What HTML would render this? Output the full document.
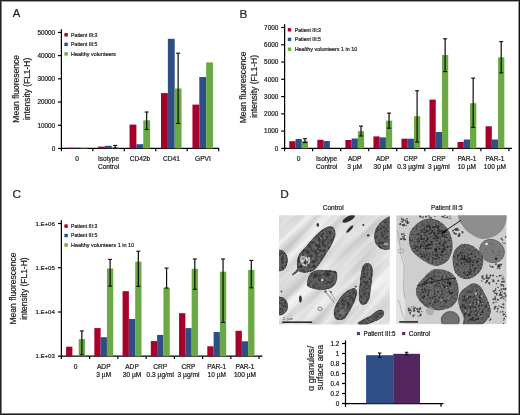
<!DOCTYPE html>
<html><head><meta charset="utf-8"><style>
html,body{margin:0;padding:0;background:#fff;}
body{width:520px;height:415px;position:relative;overflow:hidden;font-family:"Liberation Sans", sans-serif;}
.b{position:absolute;}
</style></head><body>
<svg width="520" height="415" viewBox="0 0 520 415" style="position:absolute;left:0;top:0;will-change:transform">
<g font-family='"Liberation Sans", sans-serif'>
<text x="12.7" y="17.2" font-size="11.8" text-anchor="start" fill="#231f20" stroke="#231f20" stroke-width="0.22" textLength="7.5" lengthAdjust="spacingAndGlyphs">A</text>
<text x="239.6" y="17.5" font-size="11.8" text-anchor="start" fill="#231f20" stroke="#231f20" stroke-width="0.22">B</text>
<text x="12.6" y="198.2" font-size="11.8" text-anchor="start" fill="#231f20" stroke="#231f20" stroke-width="0.22">C</text>
<text x="280.2" y="198.1" font-size="11.8" text-anchor="start" fill="#231f20" stroke="#231f20" stroke-width="0.22">D</text>
<line x1="61.4" y1="29.2" x2="61.4" y2="149.04999999999998" stroke="#000" stroke-width="1.25"/>
<line x1="58.0" y1="148.45" x2="61.4" y2="148.45" stroke="#000" stroke-width="1.2"/>
<text x="55.2" y="150.754" font-size="6.4" text-anchor="end" fill="#231f20" stroke="#231f20" stroke-width="0.22">0</text>
<line x1="58.0" y1="125.23999999999998" x2="61.4" y2="125.23999999999998" stroke="#000" stroke-width="1.2"/>
<text x="55.2" y="127.54399999999998" font-size="6.4" text-anchor="end" fill="#231f20" stroke="#231f20" stroke-width="0.22">10000</text>
<line x1="58.0" y1="102.02999999999999" x2="61.4" y2="102.02999999999999" stroke="#000" stroke-width="1.2"/>
<text x="55.2" y="104.33399999999999" font-size="6.4" text-anchor="end" fill="#231f20" stroke="#231f20" stroke-width="0.22">20000</text>
<line x1="58.0" y1="78.82" x2="61.4" y2="78.82" stroke="#000" stroke-width="1.2"/>
<text x="55.2" y="81.124" font-size="6.4" text-anchor="end" fill="#231f20" stroke="#231f20" stroke-width="0.22">30000</text>
<line x1="58.0" y1="55.609999999999985" x2="61.4" y2="55.609999999999985" stroke="#000" stroke-width="1.2"/>
<text x="55.2" y="57.91399999999999" font-size="6.4" text-anchor="end" fill="#231f20" stroke="#231f20" stroke-width="0.22">40000</text>
<line x1="58.0" y1="32.39999999999998" x2="61.4" y2="32.39999999999998" stroke="#000" stroke-width="1.2"/>
<text x="55.2" y="34.70399999999998" font-size="6.4" text-anchor="end" fill="#231f20" stroke="#231f20" stroke-width="0.22">50000</text>
<line x1="60.8" y1="148.45" x2="219.2" y2="148.45" stroke="#000" stroke-width="1.2"/>
<line x1="61.4" y1="148.45" x2="61.4" y2="151.25" stroke="#000" stroke-width="1.2"/>
<line x1="92.85" y1="148.45" x2="92.85" y2="151.25" stroke="#000" stroke-width="1.2"/>
<line x1="124.3" y1="148.45" x2="124.3" y2="151.25" stroke="#000" stroke-width="1.2"/>
<line x1="155.75" y1="148.45" x2="155.75" y2="151.25" stroke="#000" stroke-width="1.2"/>
<line x1="187.2" y1="148.45" x2="187.2" y2="151.25" stroke="#000" stroke-width="1.2"/>
<line x1="218.65" y1="148.45" x2="218.65" y2="151.25" stroke="#000" stroke-width="1.2"/>
<rect x="66.65" y="147.80" width="6.85" height="0.65" fill="#a6002b"/>
<rect x="73.50" y="147.70" width="6.85" height="0.75" fill="#2e4e85"/>
<rect x="80.35" y="147.80" width="6.85" height="0.65" fill="#6ba944"/>
<rect x="98.10" y="146.60" width="6.85" height="1.85" fill="#a6002b"/>
<rect x="104.95" y="145.80" width="6.85" height="2.65" fill="#2e4e85"/>
<rect x="111.80" y="147.40" width="6.85" height="1.05" fill="#6ba944"/>
<rect x="129.55" y="124.60" width="6.85" height="23.85" fill="#a6002b"/>
<rect x="136.40" y="144.20" width="6.85" height="4.25" fill="#2e4e85"/>
<rect x="143.25" y="120.30" width="6.85" height="28.15" fill="#6ba944"/>
<rect x="161.00" y="93.10" width="6.85" height="55.35" fill="#a6002b"/>
<rect x="167.85" y="38.80" width="6.85" height="109.65" fill="#2e4e85"/>
<rect x="174.70" y="88.50" width="6.85" height="59.95" fill="#6ba944"/>
<rect x="192.45" y="104.60" width="6.85" height="43.85" fill="#a6002b"/>
<rect x="199.30" y="77.00" width="6.85" height="71.45" fill="#2e4e85"/>
<rect x="206.15" y="62.40" width="6.85" height="86.05" fill="#6ba944"/>
<line x1="115.225" y1="145.4" x2="115.225" y2="148.2" stroke="#0a0a0a" stroke-width="1.2"/>
<line x1="113.225" y1="145.4" x2="117.225" y2="145.4" stroke="#0a0a0a" stroke-width="1.1"/>
<line x1="113.225" y1="148.2" x2="117.225" y2="148.2" stroke="#0a0a0a" stroke-width="1.1"/>
<line x1="146.675" y1="112" x2="146.675" y2="129.5" stroke="#0a0a0a" stroke-width="1.2"/>
<line x1="144.675" y1="112" x2="148.675" y2="112" stroke="#0a0a0a" stroke-width="1.1"/>
<line x1="144.675" y1="129.5" x2="148.675" y2="129.5" stroke="#0a0a0a" stroke-width="1.1"/>
<line x1="178.125" y1="53.2" x2="178.125" y2="123.5" stroke="#0a0a0a" stroke-width="1.2"/>
<line x1="176.125" y1="53.2" x2="180.125" y2="53.2" stroke="#0a0a0a" stroke-width="1.1"/>
<line x1="176.125" y1="123.5" x2="180.125" y2="123.5" stroke="#0a0a0a" stroke-width="1.1"/>
<text x="77.125" y="160.8" font-size="6.6" text-anchor="middle" fill="#231f20" stroke="#231f20" stroke-width="0.22">0</text>
<text x="108.57499999999999" y="160.8" font-size="6.6" text-anchor="middle" fill="#231f20" stroke="#231f20" stroke-width="0.22">Isotype</text>
<text x="108.57499999999999" y="169.3" font-size="6.6" text-anchor="middle" fill="#231f20" stroke="#231f20" stroke-width="0.22">Control</text>
<text x="140.025" y="160.8" font-size="6.6" text-anchor="middle" fill="#231f20" stroke="#231f20" stroke-width="0.22">CD42b</text>
<text x="171.475" y="160.8" font-size="6.6" text-anchor="middle" fill="#231f20" stroke="#231f20" stroke-width="0.22">CD41</text>
<text x="202.925" y="160.8" font-size="6.6" text-anchor="middle" fill="#231f20" stroke="#231f20" stroke-width="0.22">GPVI</text>
<rect x="64.40" y="33.10" width="3.40" height="3.40" fill="#a6002b"/>
<text x="71" y="36.744" font-size="5.4" text-anchor="start" fill="#231f20" stroke="#231f20" stroke-width="0.22" textLength="26.4" lengthAdjust="spacingAndGlyphs">Patient III:3</text>
<rect x="64.40" y="42.70" width="3.40" height="3.40" fill="#2e4e85"/>
<text x="71" y="46.344" font-size="5.4" text-anchor="start" fill="#231f20" stroke="#231f20" stroke-width="0.22" textLength="26.4" lengthAdjust="spacingAndGlyphs">Patient III:5</text>
<rect x="64.40" y="52.20" width="3.40" height="3.40" fill="#6ba944"/>
<text x="71" y="55.844" font-size="5.4" text-anchor="start" fill="#231f20" stroke="#231f20" stroke-width="0.22" textLength="45" lengthAdjust="spacingAndGlyphs">Healthy volunteers</text>
<text x="19.2" y="122.7" font-size="8.5" fill="#231f20" stroke="#231f20" stroke-width="0.22" transform="rotate(-90 19.2 122.7)" textLength="67.8" lengthAdjust="spacingAndGlyphs">Mean fluoresence</text>
<text x="29.6" y="120.0" font-size="8.5" fill="#231f20" stroke="#231f20" stroke-width="0.22" transform="rotate(-90 29.6 120.0)" textLength="62.2" lengthAdjust="spacingAndGlyphs">intensity (FL1-H)</text>
<line x1="284.6" y1="24.2" x2="284.6" y2="149.0" stroke="#000" stroke-width="1.25"/>
<line x1="281.20000000000005" y1="148.4" x2="284.6" y2="148.4" stroke="#000" stroke-width="1.2"/>
<text x="278.3" y="150.704" font-size="6.4" text-anchor="end" fill="#231f20" stroke="#231f20" stroke-width="0.22">0</text>
<line x1="281.20000000000005" y1="131.13" x2="284.6" y2="131.13" stroke="#000" stroke-width="1.2"/>
<text x="278.3" y="133.434" font-size="6.4" text-anchor="end" fill="#231f20" stroke="#231f20" stroke-width="0.22">1000</text>
<line x1="281.20000000000005" y1="113.86000000000001" x2="284.6" y2="113.86000000000001" stroke="#000" stroke-width="1.2"/>
<text x="278.3" y="116.16400000000002" font-size="6.4" text-anchor="end" fill="#231f20" stroke="#231f20" stroke-width="0.22">2000</text>
<line x1="281.20000000000005" y1="96.59" x2="284.6" y2="96.59" stroke="#000" stroke-width="1.2"/>
<text x="278.3" y="98.894" font-size="6.4" text-anchor="end" fill="#231f20" stroke="#231f20" stroke-width="0.22">3000</text>
<line x1="281.20000000000005" y1="79.32000000000001" x2="284.6" y2="79.32000000000001" stroke="#000" stroke-width="1.2"/>
<text x="278.3" y="81.62400000000001" font-size="6.4" text-anchor="end" fill="#231f20" stroke="#231f20" stroke-width="0.22">4000</text>
<line x1="281.20000000000005" y1="62.05000000000001" x2="284.6" y2="62.05000000000001" stroke="#000" stroke-width="1.2"/>
<text x="278.3" y="64.35400000000001" font-size="6.4" text-anchor="end" fill="#231f20" stroke="#231f20" stroke-width="0.22">5000</text>
<line x1="281.20000000000005" y1="44.78" x2="284.6" y2="44.78" stroke="#000" stroke-width="1.2"/>
<text x="278.3" y="47.084" font-size="6.4" text-anchor="end" fill="#231f20" stroke="#231f20" stroke-width="0.22">6000</text>
<line x1="281.20000000000005" y1="27.510000000000005" x2="284.6" y2="27.510000000000005" stroke="#000" stroke-width="1.2"/>
<text x="278.3" y="29.814000000000004" font-size="6.4" text-anchor="end" fill="#231f20" stroke="#231f20" stroke-width="0.22">7000</text>
<line x1="284.0" y1="148.4" x2="512" y2="148.4" stroke="#000" stroke-width="1.2"/>
<line x1="284.6" y1="148.4" x2="284.6" y2="151.20000000000002" stroke="#000" stroke-width="1.2"/>
<line x1="312.64000000000004" y1="148.4" x2="312.64000000000004" y2="151.20000000000002" stroke="#000" stroke-width="1.2"/>
<line x1="340.68" y1="148.4" x2="340.68" y2="151.20000000000002" stroke="#000" stroke-width="1.2"/>
<line x1="368.72" y1="148.4" x2="368.72" y2="151.20000000000002" stroke="#000" stroke-width="1.2"/>
<line x1="396.76" y1="148.4" x2="396.76" y2="151.20000000000002" stroke="#000" stroke-width="1.2"/>
<line x1="424.8" y1="148.4" x2="424.8" y2="151.20000000000002" stroke="#000" stroke-width="1.2"/>
<line x1="452.84000000000003" y1="148.4" x2="452.84000000000003" y2="151.20000000000002" stroke="#000" stroke-width="1.2"/>
<line x1="480.88" y1="148.4" x2="480.88" y2="151.20000000000002" stroke="#000" stroke-width="1.2"/>
<line x1="508.92" y1="148.4" x2="508.92" y2="151.20000000000002" stroke="#000" stroke-width="1.2"/>
<rect x="289.30" y="141.20" width="6.25" height="7.20" fill="#a6002b"/>
<rect x="295.55" y="139.00" width="6.25" height="9.40" fill="#2e4e85"/>
<rect x="301.80" y="140.90" width="6.25" height="7.50" fill="#6ba944"/>
<rect x="317.34" y="139.80" width="6.25" height="8.60" fill="#a6002b"/>
<rect x="323.59" y="141.00" width="6.25" height="7.40" fill="#2e4e85"/>
<rect x="345.38" y="140.00" width="6.25" height="8.40" fill="#a6002b"/>
<rect x="351.63" y="138.50" width="6.25" height="9.90" fill="#2e4e85"/>
<rect x="357.88" y="131.10" width="6.25" height="17.30" fill="#6ba944"/>
<rect x="373.42" y="136.40" width="6.25" height="12.00" fill="#a6002b"/>
<rect x="379.67" y="137.40" width="6.25" height="11.00" fill="#2e4e85"/>
<rect x="385.92" y="120.70" width="6.25" height="27.70" fill="#6ba944"/>
<rect x="401.46" y="138.70" width="6.25" height="9.70" fill="#a6002b"/>
<rect x="407.71" y="138.70" width="6.25" height="9.70" fill="#2e4e85"/>
<rect x="413.96" y="116.20" width="6.25" height="32.20" fill="#6ba944"/>
<rect x="429.50" y="99.60" width="6.25" height="48.80" fill="#a6002b"/>
<rect x="435.75" y="132.00" width="6.25" height="16.40" fill="#2e4e85"/>
<rect x="442.00" y="55.00" width="6.25" height="93.40" fill="#6ba944"/>
<rect x="457.54" y="142.00" width="6.25" height="6.40" fill="#a6002b"/>
<rect x="463.79" y="139.50" width="6.25" height="8.90" fill="#2e4e85"/>
<rect x="470.04" y="103.20" width="6.25" height="45.20" fill="#6ba944"/>
<rect x="485.58" y="126.30" width="6.25" height="22.10" fill="#a6002b"/>
<rect x="491.83" y="139.50" width="6.25" height="8.90" fill="#2e4e85"/>
<rect x="498.08" y="57.30" width="6.25" height="91.10" fill="#6ba944"/>
<line x1="304.925" y1="138.7" x2="304.925" y2="142.6" stroke="#0a0a0a" stroke-width="1.2"/>
<line x1="302.925" y1="138.7" x2="306.925" y2="138.7" stroke="#0a0a0a" stroke-width="1.1"/>
<line x1="302.925" y1="142.6" x2="306.925" y2="142.6" stroke="#0a0a0a" stroke-width="1.1"/>
<line x1="361.005" y1="126.1" x2="361.005" y2="136" stroke="#0a0a0a" stroke-width="1.2"/>
<line x1="359.005" y1="126.1" x2="363.005" y2="126.1" stroke="#0a0a0a" stroke-width="1.1"/>
<line x1="359.005" y1="136" x2="363.005" y2="136" stroke="#0a0a0a" stroke-width="1.1"/>
<line x1="389.045" y1="113.1" x2="389.045" y2="128.2" stroke="#0a0a0a" stroke-width="1.2"/>
<line x1="387.045" y1="113.1" x2="391.045" y2="113.1" stroke="#0a0a0a" stroke-width="1.1"/>
<line x1="387.045" y1="128.2" x2="391.045" y2="128.2" stroke="#0a0a0a" stroke-width="1.1"/>
<line x1="417.085" y1="90.8" x2="417.085" y2="142.1" stroke="#0a0a0a" stroke-width="1.2"/>
<line x1="415.085" y1="90.8" x2="419.085" y2="90.8" stroke="#0a0a0a" stroke-width="1.1"/>
<line x1="415.085" y1="142.1" x2="419.085" y2="142.1" stroke="#0a0a0a" stroke-width="1.1"/>
<line x1="445.125" y1="38.8" x2="445.125" y2="71.6" stroke="#0a0a0a" stroke-width="1.2"/>
<line x1="443.125" y1="38.8" x2="447.125" y2="38.8" stroke="#0a0a0a" stroke-width="1.1"/>
<line x1="443.125" y1="71.6" x2="447.125" y2="71.6" stroke="#0a0a0a" stroke-width="1.1"/>
<line x1="473.165" y1="78.1" x2="473.165" y2="127.4" stroke="#0a0a0a" stroke-width="1.2"/>
<line x1="471.165" y1="78.1" x2="475.165" y2="78.1" stroke="#0a0a0a" stroke-width="1.1"/>
<line x1="471.165" y1="127.4" x2="475.165" y2="127.4" stroke="#0a0a0a" stroke-width="1.1"/>
<line x1="501.205" y1="41.6" x2="501.205" y2="72.8" stroke="#0a0a0a" stroke-width="1.2"/>
<line x1="499.205" y1="41.6" x2="503.205" y2="41.6" stroke="#0a0a0a" stroke-width="1.1"/>
<line x1="499.205" y1="72.8" x2="503.205" y2="72.8" stroke="#0a0a0a" stroke-width="1.1"/>
<text x="298.62" y="161" font-size="6.6" text-anchor="middle" fill="#231f20" stroke="#231f20" stroke-width="0.22">0</text>
<text x="326.66" y="161" font-size="6.6" text-anchor="middle" fill="#231f20" stroke="#231f20" stroke-width="0.22">Isotype</text>
<text x="326.66" y="169.2" font-size="6.6" text-anchor="middle" fill="#231f20" stroke="#231f20" stroke-width="0.22">Control</text>
<text x="354.70000000000005" y="161" font-size="6.6" text-anchor="middle" fill="#231f20" stroke="#231f20" stroke-width="0.22">ADP</text>
<text x="354.70000000000005" y="169.2" font-size="6.6" text-anchor="middle" fill="#231f20" stroke="#231f20" stroke-width="0.22">3 µM</text>
<text x="382.74" y="161" font-size="6.6" text-anchor="middle" fill="#231f20" stroke="#231f20" stroke-width="0.22">ADP</text>
<text x="382.74" y="169.2" font-size="6.6" text-anchor="middle" fill="#231f20" stroke="#231f20" stroke-width="0.22">30 µM</text>
<text x="410.78000000000003" y="161" font-size="6.6" text-anchor="middle" fill="#231f20" stroke="#231f20" stroke-width="0.22">CRP</text>
<text x="410.78000000000003" y="169.2" font-size="6.6" text-anchor="middle" fill="#231f20" stroke="#231f20" stroke-width="0.22">0.3 µg/ml</text>
<text x="438.82000000000005" y="161" font-size="6.6" text-anchor="middle" fill="#231f20" stroke="#231f20" stroke-width="0.22">CRP</text>
<text x="438.82000000000005" y="169.2" font-size="6.6" text-anchor="middle" fill="#231f20" stroke="#231f20" stroke-width="0.22">3 µg/ml</text>
<text x="466.86" y="161" font-size="6.6" text-anchor="middle" fill="#231f20" stroke="#231f20" stroke-width="0.22">PAR-1</text>
<text x="466.86" y="169.2" font-size="6.6" text-anchor="middle" fill="#231f20" stroke="#231f20" stroke-width="0.22">10 µM</text>
<text x="494.9" y="161" font-size="6.6" text-anchor="middle" fill="#231f20" stroke="#231f20" stroke-width="0.22">PAR-1</text>
<text x="494.9" y="169.2" font-size="6.6" text-anchor="middle" fill="#231f20" stroke="#231f20" stroke-width="0.22">100 µM</text>
<rect x="287.80" y="28.10" width="3.40" height="3.40" fill="#a6002b"/>
<text x="294.7" y="31.744" font-size="5.4" text-anchor="start" fill="#231f20" stroke="#231f20" stroke-width="0.22" textLength="26.3" lengthAdjust="spacingAndGlyphs">Patient III:3</text>
<rect x="287.80" y="37.70" width="3.40" height="3.40" fill="#2e4e85"/>
<text x="294.7" y="41.344" font-size="5.4" text-anchor="start" fill="#231f20" stroke="#231f20" stroke-width="0.22" textLength="26.3" lengthAdjust="spacingAndGlyphs">Patient III:5</text>
<rect x="287.80" y="47.50" width="3.40" height="3.40" fill="#6ba944"/>
<text x="294.7" y="51.144000000000005" font-size="5.4" text-anchor="start" fill="#231f20" stroke="#231f20" stroke-width="0.22" textLength="62.5" lengthAdjust="spacingAndGlyphs">Healthy volunteers 1 in 10</text>
<text x="246.2" y="123.3" font-size="8.5" fill="#231f20" stroke="#231f20" stroke-width="0.22" transform="rotate(-90 246.2 123.3)" textLength="71.9" lengthAdjust="spacingAndGlyphs">Mean fluorescence</text>
<text x="256.6" y="117.8" font-size="8.5" fill="#231f20" stroke="#231f20" stroke-width="0.22" transform="rotate(-90 256.6 117.8)" textLength="62.8" lengthAdjust="spacingAndGlyphs">intensity (FL1-H)</text>
<line x1="61.4" y1="220.2" x2="61.4" y2="356.8" stroke="#000" stroke-width="1.25"/>
<line x1="58.0" y1="223.5" x2="61.4" y2="223.5" stroke="#000" stroke-width="1.2"/>
<text x="54.8" y="225.696" font-size="6.1" text-anchor="end" fill="#231f20" stroke="#231f20" stroke-width="0.22" textLength="19.2" lengthAdjust="spacingAndGlyphs">1.E+06</text>
<line x1="58.0" y1="267.7" x2="61.4" y2="267.7" stroke="#000" stroke-width="1.2"/>
<text x="54.8" y="269.896" font-size="6.1" text-anchor="end" fill="#231f20" stroke="#231f20" stroke-width="0.22" textLength="19.2" lengthAdjust="spacingAndGlyphs">1.E+05</text>
<line x1="58.0" y1="312.0" x2="61.4" y2="312.0" stroke="#000" stroke-width="1.2"/>
<text x="54.8" y="314.196" font-size="6.1" text-anchor="end" fill="#231f20" stroke="#231f20" stroke-width="0.22" textLength="19.2" lengthAdjust="spacingAndGlyphs">1.E+04</text>
<line x1="58.0" y1="356.2" x2="61.4" y2="356.2" stroke="#000" stroke-width="1.2"/>
<text x="54.8" y="358.396" font-size="6.1" text-anchor="end" fill="#231f20" stroke="#231f20" stroke-width="0.22" textLength="19.2" lengthAdjust="spacingAndGlyphs">1.E+03</text>
<line x1="60.8" y1="356.2" x2="262.5" y2="356.2" stroke="#000" stroke-width="1.2"/>
<line x1="61.4" y1="356.2" x2="61.4" y2="359.0" stroke="#000" stroke-width="1.2"/>
<line x1="89.64" y1="356.2" x2="89.64" y2="359.0" stroke="#000" stroke-width="1.2"/>
<line x1="117.88" y1="356.2" x2="117.88" y2="359.0" stroke="#000" stroke-width="1.2"/>
<line x1="146.12" y1="356.2" x2="146.12" y2="359.0" stroke="#000" stroke-width="1.2"/>
<line x1="174.35999999999999" y1="356.2" x2="174.35999999999999" y2="359.0" stroke="#000" stroke-width="1.2"/>
<line x1="202.6" y1="356.2" x2="202.6" y2="359.0" stroke="#000" stroke-width="1.2"/>
<line x1="230.84" y1="356.2" x2="230.84" y2="359.0" stroke="#000" stroke-width="1.2"/>
<line x1="259.08" y1="356.2" x2="259.08" y2="359.0" stroke="#000" stroke-width="1.2"/>
<rect x="66.10" y="346.70" width="6.30" height="9.50" fill="#a6002b"/>
<rect x="78.70" y="339.10" width="6.30" height="17.10" fill="#6ba944"/>
<rect x="94.34" y="328.10" width="6.30" height="28.10" fill="#a6002b"/>
<rect x="100.64" y="337.20" width="6.30" height="19.00" fill="#2e4e85"/>
<rect x="106.94" y="268.50" width="6.30" height="87.70" fill="#6ba944"/>
<rect x="122.58" y="291.20" width="6.30" height="65.00" fill="#a6002b"/>
<rect x="128.88" y="319.00" width="6.30" height="37.20" fill="#2e4e85"/>
<rect x="135.18" y="261.60" width="6.30" height="94.60" fill="#6ba944"/>
<rect x="150.82" y="341.10" width="6.30" height="15.10" fill="#a6002b"/>
<rect x="157.12" y="334.90" width="6.30" height="21.30" fill="#2e4e85"/>
<rect x="163.42" y="287.90" width="6.30" height="68.30" fill="#6ba944"/>
<rect x="179.06" y="313.20" width="6.30" height="43.00" fill="#a6002b"/>
<rect x="185.36" y="328.10" width="6.30" height="28.10" fill="#2e4e85"/>
<rect x="191.66" y="268.80" width="6.30" height="87.40" fill="#6ba944"/>
<rect x="207.30" y="346.30" width="6.30" height="9.90" fill="#a6002b"/>
<rect x="213.60" y="332.00" width="6.30" height="24.20" fill="#2e4e85"/>
<rect x="219.90" y="271.70" width="6.30" height="84.50" fill="#6ba944"/>
<rect x="235.54" y="330.80" width="6.30" height="25.40" fill="#a6002b"/>
<rect x="241.84" y="341.30" width="6.30" height="14.90" fill="#2e4e85"/>
<rect x="248.14" y="269.90" width="6.30" height="86.30" fill="#6ba944"/>
<line x1="81.85" y1="330.9" x2="81.85" y2="354.8" stroke="#0a0a0a" stroke-width="1.2"/>
<line x1="79.85" y1="330.9" x2="83.85" y2="330.9" stroke="#0a0a0a" stroke-width="1.1"/>
<line x1="79.85" y1="354.8" x2="83.85" y2="354.8" stroke="#0a0a0a" stroke-width="1.1"/>
<line x1="110.09" y1="259.4" x2="110.09" y2="286.1" stroke="#0a0a0a" stroke-width="1.2"/>
<line x1="108.09" y1="259.4" x2="112.09" y2="259.4" stroke="#0a0a0a" stroke-width="1.1"/>
<line x1="108.09" y1="286.1" x2="112.09" y2="286.1" stroke="#0a0a0a" stroke-width="1.1"/>
<line x1="138.32999999999998" y1="251.2" x2="138.32999999999998" y2="286.4" stroke="#0a0a0a" stroke-width="1.2"/>
<line x1="136.32999999999998" y1="251.2" x2="140.32999999999998" y2="251.2" stroke="#0a0a0a" stroke-width="1.1"/>
<line x1="136.32999999999998" y1="286.4" x2="140.32999999999998" y2="286.4" stroke="#0a0a0a" stroke-width="1.1"/>
<line x1="166.57" y1="268.1" x2="166.57" y2="288" stroke="#0a0a0a" stroke-width="1.2"/>
<line x1="164.57" y1="268.1" x2="168.57" y2="268.1" stroke="#0a0a0a" stroke-width="1.1"/>
<line x1="164.57" y1="288" x2="168.57" y2="288" stroke="#0a0a0a" stroke-width="1.1"/>
<line x1="194.80999999999997" y1="259" x2="194.80999999999997" y2="289.3" stroke="#0a0a0a" stroke-width="1.2"/>
<line x1="192.80999999999997" y1="259" x2="196.80999999999997" y2="259" stroke="#0a0a0a" stroke-width="1.1"/>
<line x1="192.80999999999997" y1="289.3" x2="196.80999999999997" y2="289.3" stroke="#0a0a0a" stroke-width="1.1"/>
<line x1="223.04999999999998" y1="259" x2="223.04999999999998" y2="322.4" stroke="#0a0a0a" stroke-width="1.2"/>
<line x1="221.04999999999998" y1="259" x2="225.04999999999998" y2="259" stroke="#0a0a0a" stroke-width="1.1"/>
<line x1="221.04999999999998" y1="322.4" x2="225.04999999999998" y2="322.4" stroke="#0a0a0a" stroke-width="1.1"/>
<line x1="251.29" y1="260.4" x2="251.29" y2="287.8" stroke="#0a0a0a" stroke-width="1.2"/>
<line x1="249.29" y1="260.4" x2="253.29" y2="260.4" stroke="#0a0a0a" stroke-width="1.1"/>
<line x1="249.29" y1="287.8" x2="253.29" y2="287.8" stroke="#0a0a0a" stroke-width="1.1"/>
<text x="75.52" y="368.9" font-size="6.6" text-anchor="middle" fill="#231f20" stroke="#231f20" stroke-width="0.22">0</text>
<text x="103.75999999999999" y="368.9" font-size="6.6" text-anchor="middle" fill="#231f20" stroke="#231f20" stroke-width="0.22">ADP</text>
<text x="103.75999999999999" y="377.1" font-size="6.6" text-anchor="middle" fill="#231f20" stroke="#231f20" stroke-width="0.22">3 µM</text>
<text x="132.0" y="368.9" font-size="6.6" text-anchor="middle" fill="#231f20" stroke="#231f20" stroke-width="0.22">ADP</text>
<text x="132.0" y="377.1" font-size="6.6" text-anchor="middle" fill="#231f20" stroke="#231f20" stroke-width="0.22">30 µM</text>
<text x="160.23999999999998" y="368.9" font-size="6.6" text-anchor="middle" fill="#231f20" stroke="#231f20" stroke-width="0.22">CRP</text>
<text x="160.23999999999998" y="377.1" font-size="6.6" text-anchor="middle" fill="#231f20" stroke="#231f20" stroke-width="0.22">0.3 µg/ml</text>
<text x="188.48" y="368.9" font-size="6.6" text-anchor="middle" fill="#231f20" stroke="#231f20" stroke-width="0.22">CRP</text>
<text x="188.48" y="377.1" font-size="6.6" text-anchor="middle" fill="#231f20" stroke="#231f20" stroke-width="0.22">3 µg/ml</text>
<text x="216.72" y="368.9" font-size="6.6" text-anchor="middle" fill="#231f20" stroke="#231f20" stroke-width="0.22">PAR-1</text>
<text x="216.72" y="377.1" font-size="6.6" text-anchor="middle" fill="#231f20" stroke="#231f20" stroke-width="0.22">10 µM</text>
<text x="244.96" y="368.9" font-size="6.6" text-anchor="middle" fill="#231f20" stroke="#231f20" stroke-width="0.22">PAR-1</text>
<text x="244.96" y="377.1" font-size="6.6" text-anchor="middle" fill="#231f20" stroke="#231f20" stroke-width="0.22">100 µM</text>
<rect x="64.40" y="224.40" width="3.40" height="3.40" fill="#a6002b"/>
<text x="71" y="228.04399999999998" font-size="5.4" text-anchor="start" fill="#231f20" stroke="#231f20" stroke-width="0.22" textLength="26.3" lengthAdjust="spacingAndGlyphs">Patient III:3</text>
<rect x="64.40" y="233.80" width="3.40" height="3.40" fill="#2e4e85"/>
<text x="71" y="237.444" font-size="5.4" text-anchor="start" fill="#231f20" stroke="#231f20" stroke-width="0.22" textLength="26.3" lengthAdjust="spacingAndGlyphs">Patient III:5</text>
<rect x="64.40" y="243.30" width="3.40" height="3.40" fill="#6ba944"/>
<text x="71" y="246.944" font-size="5.4" text-anchor="start" fill="#231f20" stroke="#231f20" stroke-width="0.22" textLength="63" lengthAdjust="spacingAndGlyphs">Healthy volunteers 1 in 10</text>
<text x="16.1" y="324.5" font-size="8.5" fill="#231f20" stroke="#231f20" stroke-width="0.22" transform="rotate(-90 16.1 324.5)" textLength="72.1" lengthAdjust="spacingAndGlyphs">Mean fluorescence</text>
<text x="26.6" y="319.8" font-size="8.5" fill="#231f20" stroke="#231f20" stroke-width="0.22" transform="rotate(-90 26.6 319.8)" textLength="62.4" lengthAdjust="spacingAndGlyphs">intensity (FL1-H)</text>
<text x="333.2" y="210.3" font-size="6.6" text-anchor="middle" fill="#231f20" stroke="#231f20" stroke-width="0.22" textLength="21" lengthAdjust="spacingAndGlyphs">Control</text>
<text x="446.9" y="210.3" font-size="6.6" text-anchor="middle" fill="#231f20" stroke="#231f20" stroke-width="0.22" textLength="31.7" lengthAdjust="spacingAndGlyphs">Patient III:5</text>
<defs><clipPath id="c1"><rect x="279" y="215.2" width="110.8" height="109.4"/></clipPath>
<filter id="b1" x="-5%" y="-5%" width="110%" height="110%"><feGaussianBlur stdDeviation="0.45"/></filter>
<filter id="b3"><feGaussianBlur stdDeviation="2.2"/></filter>
<filter id="mot" color-interpolation-filters="sRGB" x="-2%" y="-2%" width="104%" height="104%"><feTurbulence type="fractalNoise" baseFrequency="0.38" numOctaves="2" seed="4" result="n"/><feColorMatrix in="n" type="matrix" values="1.3 0 0 0 0.2  1.3 0 0 0 0.2  1.3 0 0 0 0.2  0 0 0 0 1" result="g"/><feBlend in="SourceGraphic" in2="g" mode="multiply" result="m"/><feComposite in="m" in2="SourceGraphic" operator="in"/></filter>
<filter id="tex1" color-interpolation-filters="sRGB" x="0" y="0" width="100%" height="100%"><feTurbulence type="fractalNoise" baseFrequency="0.012 0.12" numOctaves="2" seed="5"/><feColorMatrix type="matrix" values="0.32 0 0 0 0.71  0.32 0 0 0 0.71  0.32 0 0 0 0.71  0 0 0 0 1"/></filter>
<filter id="mot2" color-interpolation-filters="sRGB" x="-2%" y="-2%" width="104%" height="104%"><feTurbulence type="fractalNoise" baseFrequency="0.5" numOctaves="2" seed="9" result="n"/><feColorMatrix in="n" type="matrix" values="1.0 0 0 0 0.38  1.0 0 0 0 0.38  1.0 0 0 0 0.38  0 0 0 0 1" result="g"/><feBlend in="SourceGraphic" in2="g" mode="multiply" result="m"/><feComposite in="m" in2="SourceGraphic" operator="in"/></filter>
<clipPath id="c2"><rect x="396.2" y="215.2" width="110.5" height="109"/></clipPath>
</defs>
<g clip-path="url(#c1)"><g filter="url(#b1)">
<rect x="279" y="215.2" width="110.8" height="109.4" fill="#dadada"/>
<g transform="rotate(-45 334.4 269.9)"><rect x="254" y="190" width="161" height="160" filter="url(#tex1)"/></g>
<path d="M331,226.6 C334.5,227.2 335.8,231 335,236 C333.5,242 329,249 324.5,256 C321,261.5 318,266.5 314,270 C311,272 306,272.8 302,272.2 C300.5,272 299.5,271.5 298.8,270.8 C296.5,272.5 294.5,274 292.6,275.3 L292,274.4 C294.2,272.6 296.5,270.5 297.6,268.5 C297.2,265 297.2,261 298,257.5 C299,254 301.5,251.5 304,249 C307,245.5 310,242 313,238.5 C317,234 321,230.5 325,228.2 C327,227.2 329,226.5 331,226.6 Z" fill="#646464" stroke="#222" stroke-width="0.8" filter="url(#mot)"/>
<path d="M300.2,258 C301.5,255 306,254.6 309.5,256.8 C311,259.5 310,264 306.5,266 C303,266.8 300.5,264 300.2,258 Z" fill="#d4d4d4" filter="url(#mot)"/>
<circle cx="307.0" cy="252.1" r="1.12" fill="#353535" fill-opacity="0.9"/>
<circle cx="304.7" cy="263.1" r="1.26" fill="#353535" fill-opacity="0.9"/>
<circle cx="316.6" cy="245.3" r="1.38" fill="#353535" fill-opacity="0.9"/>
<circle cx="306.0" cy="253.3" r="0.69" fill="#353535" fill-opacity="0.9"/>
<circle cx="315.3" cy="258.8" r="0.74" fill="#353535" fill-opacity="0.9"/>
<circle cx="319.9" cy="247.3" r="0.90" fill="#353535" fill-opacity="0.9"/>
<circle cx="319.6" cy="241.8" r="0.85" fill="#353535" fill-opacity="0.9"/>
<circle cx="317.5" cy="245.5" r="0.84" fill="#353535" fill-opacity="0.9"/>
<circle cx="326.0" cy="240.2" r="0.80" fill="#353535" fill-opacity="0.9"/>
<circle cx="318.2" cy="246.5" r="1.30" fill="#353535" fill-opacity="0.9"/>
<circle cx="319.0" cy="238.8" r="1.38" fill="#353535" fill-opacity="0.9"/>
<circle cx="305.3" cy="262.0" r="1.21" fill="#353535" fill-opacity="0.9"/>
<circle cx="307.1" cy="261.4" r="0.63" fill="#353535" fill-opacity="0.9"/>
<circle cx="323.7" cy="245.4" r="1.06" fill="#353535" fill-opacity="0.9"/>
<circle cx="323.0" cy="233.8" r="1.16" fill="#353535" fill-opacity="0.9"/>
<circle cx="319.4" cy="246.3" r="0.96" fill="#353535" fill-opacity="0.9"/>
<circle cx="317.5" cy="251.4" r="0.65" fill="#353535" fill-opacity="0.9"/>
<circle cx="323.0" cy="243.1" r="1.39" fill="#353535" fill-opacity="0.9"/>
<circle cx="321.3" cy="235.4" r="0.91" fill="#353535" fill-opacity="0.9"/>
<circle cx="310.7" cy="247.3" r="0.69" fill="#353535" fill-opacity="0.9"/>
<circle cx="318.1" cy="256.3" r="0.66" fill="#353535" fill-opacity="0.9"/>
<circle cx="315.4" cy="251.3" r="1.31" fill="#353535" fill-opacity="0.9"/>
<circle cx="309.3" cy="256.2" r="0.89" fill="#353535" fill-opacity="0.9"/>
<circle cx="305.7" cy="256.2" r="0.99" fill="#353535" fill-opacity="0.9"/>
<circle cx="315.1" cy="243.6" r="0.60" fill="#353535" fill-opacity="0.9"/>
<circle cx="312.2" cy="250.7" r="1.05" fill="#353535" fill-opacity="0.9"/>
<circle cx="317.9" cy="249.5" r="1.14" fill="#353535" fill-opacity="0.9"/>
<circle cx="322.1" cy="237.3" r="0.92" fill="#353535" fill-opacity="0.9"/>
<circle cx="307.8" cy="264.5" r="0.65" fill="#353535" fill-opacity="0.9"/>
<circle cx="305.4" cy="259.7" r="0.64" fill="#353535" fill-opacity="0.9"/>
<circle cx="304.2" cy="262.1" r="0.62" fill="#353535" fill-opacity="0.9"/>
<circle cx="326.9" cy="236.6" r="0.72" fill="#353535" fill-opacity="0.9"/>
<circle cx="307.7" cy="256.5" r="0.89" fill="#353535" fill-opacity="0.9"/>
<circle cx="310.2" cy="245.8" r="0.68" fill="#353535" fill-opacity="0.9"/>
<circle cx="308.9" cy="252.5" r="1.26" fill="#353535" fill-opacity="0.9"/>
<circle cx="307.6" cy="262.1" r="0.62" fill="#353535" fill-opacity="0.9"/>
<circle cx="327.7" cy="237.7" r="0.81" fill="#353535" fill-opacity="0.9"/>
<circle cx="308.3" cy="250.7" r="1.22" fill="#353535" fill-opacity="0.9"/>
<circle cx="320.5" cy="250.4" r="0.86" fill="#353535" fill-opacity="0.9"/>
<circle cx="313.1" cy="261.8" r="1.39" fill="#353535" fill-opacity="0.9"/>
<circle cx="326.1" cy="240.5" r="0.61" fill="#8a8a8a" fill-opacity="0.8"/>
<circle cx="314.7" cy="247.3" r="0.51" fill="#8a8a8a" fill-opacity="0.8"/>
<circle cx="312.7" cy="258.4" r="0.98" fill="#8a8a8a" fill-opacity="0.8"/>
<circle cx="309.7" cy="251.2" r="0.61" fill="#8a8a8a" fill-opacity="0.8"/>
<circle cx="305.7" cy="256.6" r="0.81" fill="#8a8a8a" fill-opacity="0.8"/>
<circle cx="317.3" cy="250.9" r="0.90" fill="#8a8a8a" fill-opacity="0.8"/>
<circle cx="321.5" cy="240.6" r="0.59" fill="#8a8a8a" fill-opacity="0.8"/>
<circle cx="320.7" cy="238.2" r="0.90" fill="#8a8a8a" fill-opacity="0.8"/>
<circle cx="317.4" cy="239.0" r="0.56" fill="#8a8a8a" fill-opacity="0.8"/>
<circle cx="317.9" cy="242.6" r="0.77" fill="#8a8a8a" fill-opacity="0.8"/>
<path d="M307.2,284.7 C307.5,279 309,275 310.8,273.3 C314,270.6 318,270.2 320.5,270.2 C326,270 332,270.6 336.1,271.4 C337.5,274 337,278 336.1,281.7 C335,284.5 333,286.5 331.3,287.7 C327,289.5 322,289.8 319.3,289.5 C315,289.2 312,288.3 309.6,287.1 C308,286.5 307,285.6 307.2,284.7 Z" fill="#646464" stroke="#222" stroke-width="0.8" filter="url(#mot)"/>
<circle cx="315.7" cy="275.7" r="2" fill="#333"/><circle cx="327.7" cy="274.5" r="2.2" fill="#333"/><circle cx="322.3" cy="279.9" r="1.2" fill="#e0e0e0"/><circle cx="320" cy="276" r="1.3" fill="#3a3a3a"/>
<path d="M325,291 C327,295 330,297 332,301 M329,290 C331,294 334,296 335,300 M327,293 C329,296 333,298 334,303" stroke="#777" stroke-width="0.6" fill="none"/>
<circle cx="325.5" cy="291.5" r="1.3" fill="#666"/><circle cx="331" cy="292" r="1.1" fill="#666"/>
<path d="M355,288.6 C357.5,290 357,295 355,300 C352,307 348,314 345,318 C343,320 338,320.5 335.5,318.5 C333.5,316 333.5,311 335.5,306 C338,300 342,295 346,292 C349,289.5 352.5,288 355,288.6 Z" fill="#646464" stroke="#222" stroke-width="0.8" filter="url(#mot)"/>
<circle cx="339.2" cy="310.9" r="1.10" fill="#3a3a3a" fill-opacity="0.8"/>
<circle cx="345.6" cy="297.1" r="0.78" fill="#3a3a3a" fill-opacity="0.8"/>
<circle cx="341.3" cy="303.9" r="0.76" fill="#3a3a3a" fill-opacity="0.8"/>
<circle cx="349.3" cy="296.2" r="1.15" fill="#3a3a3a" fill-opacity="0.8"/>
<circle cx="344.1" cy="302.2" r="0.95" fill="#3a3a3a" fill-opacity="0.8"/>
<circle cx="350.1" cy="305.2" r="1.15" fill="#3a3a3a" fill-opacity="0.8"/>
<circle cx="344.6" cy="304.6" r="0.91" fill="#3a3a3a" fill-opacity="0.8"/>
<circle cx="341.6" cy="308.2" r="0.93" fill="#3a3a3a" fill-opacity="0.8"/>
<circle cx="343.0" cy="303.2" r="0.93" fill="#3a3a3a" fill-opacity="0.8"/>
<circle cx="349.1" cy="299.5" r="0.77" fill="#3a3a3a" fill-opacity="0.8"/>
<ellipse cx="342" cy="312" rx="3" ry="2.5" fill="#8a8a8a" opacity="0.6"/>
<path d="M366.5,263.3 C370.5,263 372.8,266 372.4,272 C372,280 370.5,290 369.5,297 C368.5,302 366,304.8 362.5,304.5 C359.5,304 359,300 359.2,295 C359.5,287 360.5,278 361.8,270 C362.5,266 364,263.5 366.5,263.3 Z" fill="#646464" stroke="#222" stroke-width="0.8" filter="url(#mot)"/>
<circle cx="368.1" cy="284.5" r="0.84" fill="#3a3a3a" fill-opacity="0.8"/>
<circle cx="365.2" cy="287.5" r="0.80" fill="#3a3a3a" fill-opacity="0.8"/>
<circle cx="365.5" cy="290.1" r="0.77" fill="#3a3a3a" fill-opacity="0.8"/>
<circle cx="366.3" cy="283.3" r="1.06" fill="#3a3a3a" fill-opacity="0.8"/>
<circle cx="363.2" cy="281.8" r="0.54" fill="#3a3a3a" fill-opacity="0.8"/>
<circle cx="366.4" cy="293.2" r="1.04" fill="#3a3a3a" fill-opacity="0.8"/>
<circle cx="362.5" cy="290.6" r="0.90" fill="#3a3a3a" fill-opacity="0.8"/>
<circle cx="365.4" cy="284.4" r="0.70" fill="#3a3a3a" fill-opacity="0.8"/>
<path d="M392,216 L389.5,216.5 C385,219 380,222 377,227 C374.5,231 374,236 375,241 C376.5,246 380,249 385,249.5 L392,249 Z" fill="#646464" stroke="#222" stroke-width="0.8" filter="url(#mot)"/>
<circle cx="381.0" cy="228.6" r="1.03" fill="#333" fill-opacity="0.8"/>
<circle cx="382.3" cy="236.0" r="0.91" fill="#333" fill-opacity="0.8"/>
<circle cx="383.2" cy="242.9" r="1.09" fill="#333" fill-opacity="0.8"/>
<circle cx="387.6" cy="231.9" r="0.80" fill="#333" fill-opacity="0.8"/>
<circle cx="384.3" cy="226.7" r="0.67" fill="#333" fill-opacity="0.8"/>
<circle cx="381.0" cy="228.5" r="0.78" fill="#333" fill-opacity="0.8"/>
<circle cx="386.6" cy="228.0" r="0.90" fill="#333" fill-opacity="0.8"/>
<circle cx="380.8" cy="229.3" r="0.61" fill="#333" fill-opacity="0.8"/>
<ellipse cx="386" cy="244" rx="2.5" ry="1.5" fill="#9a9a9a"/>
<ellipse cx="280" cy="260.5" rx="7.5" ry="10.5" fill="#646464" stroke="#222" stroke-width="0.8" filter="url(#mot)"/>
<ellipse cx="279.5" cy="306" rx="8.3" ry="9.2" fill="#646464" stroke="#222" stroke-width="0.8" filter="url(#mot)"/>
<path d="M357.8,323 C362,320 367,317.5 371,316 C374,312.5 378,309.6 381.5,310 C384,310.5 384.5,313.5 383,316 C381,318.5 378,320 375,321 C371,323 366,325 360,326 Z" fill="#646464" stroke="#222" stroke-width="0.8" filter="url(#mot)"/>
<ellipse cx="348.7" cy="218.8" rx="7" ry="2.6" transform="rotate(-28 348.7 218.8)" fill="#2e2e2e"/>
<ellipse cx="349.8" cy="229.1" rx="4.8" ry="1.4" transform="rotate(-48 349.8 229.1)" fill="#2e2e2e"/>
<ellipse cx="317.8" cy="224.9" rx="1.3" ry="1.8" fill="#333"/>
<circle cx="363.3" cy="224.9" r="1.0" fill="#333"/>
<ellipse cx="368.2" cy="235.4" rx="1.4" ry="1.1" fill="#333"/>
<ellipse cx="300.4" cy="299" rx="1.4" ry="3.6" fill="#333"/>
<circle cx="281.5" cy="291.4" r="0.9" fill="#444"/>
<circle cx="355.7" cy="286.5" r="1.1" fill="#444"/>
<ellipse cx="320" cy="308.8" rx="2.2" ry="1.8" fill="none" stroke="#555" stroke-width="0.7"/>
</g>
<rect x="282.2" y="321.5" width="30" height="1.4" fill="#111"/>
<text x="283" y="320.2" font-size="3.6" fill="#333">2</text><text x="287.6" y="320.2" font-size="3.6" fill="#333">µm</text>
</g>
<g clip-path="url(#c2)"><g filter="url(#b1)">
<rect x="396.2" y="215.2" width="110.5" height="109" fill="#cecece"/>
<path d="M396.2,240 C402,250 406,262 404,280 C402,295 408,305 404,324.2 L396.2,324.2 Z" fill="#e2e2e2"/>
<path d="M397,230 C401,240 399,252 403,262 C406,272 401,285 405,298 M398,300 C402,306 400,315 406,320" stroke="#9a9a9a" stroke-width="0.6" fill="none"/>
<ellipse cx="401" cy="251" rx="2.8" ry="2.2" fill="none" stroke="#888" stroke-width="0.6"/>
<circle cx="406.3" cy="222.5" r="0.61" fill="#3a3a3a" fill-opacity="0.9"/>
<circle cx="403.7" cy="225.9" r="0.56" fill="#3a3a3a" fill-opacity="0.9"/>
<circle cx="407.2" cy="221.4" r="0.80" fill="#3a3a3a" fill-opacity="0.9"/>
<circle cx="407.3" cy="221.0" r="0.80" fill="#3a3a3a" fill-opacity="0.9"/>
<circle cx="402.4" cy="225.0" r="0.92" fill="#3a3a3a" fill-opacity="0.9"/>
<circle cx="405.4" cy="221.1" r="0.71" fill="#3a3a3a" fill-opacity="0.9"/>
<circle cx="399.7" cy="224.2" r="0.65" fill="#3a3a3a" fill-opacity="0.9"/>
<circle cx="405.7" cy="220.0" r="0.65" fill="#3a3a3a" fill-opacity="0.9"/>
<circle cx="401.9" cy="221.6" r="0.59" fill="#3a3a3a" fill-opacity="0.9"/>
<circle cx="403.5" cy="219.9" r="1.08" fill="#3a3a3a" fill-opacity="0.9"/>
<circle cx="408.7" cy="222.4" r="0.65" fill="#3a3a3a" fill-opacity="0.9"/>
<circle cx="402.8" cy="221.8" r="0.80" fill="#3a3a3a" fill-opacity="0.9"/>
<circle cx="401.0" cy="222.0" r="0.50" fill="#3a3a3a" fill-opacity="0.9"/>
<circle cx="401.6" cy="218.3" r="0.74" fill="#3a3a3a" fill-opacity="0.9"/>
<circle cx="402.0" cy="219.6" r="0.85" fill="#3a3a3a" fill-opacity="0.9"/>
<circle cx="404.3" cy="224.3" r="0.89" fill="#3a3a3a" fill-opacity="0.9"/>
<circle cx="406.2" cy="225.4" r="0.73" fill="#3a3a3a" fill-opacity="0.9"/>
<circle cx="400.5" cy="224.0" r="0.89" fill="#3a3a3a" fill-opacity="0.9"/>
<circle cx="407.9" cy="223.1" r="0.94" fill="#3a3a3a" fill-opacity="0.9"/>
<circle cx="407.1" cy="218.8" r="0.81" fill="#3a3a3a" fill-opacity="0.9"/>
<circle cx="404.0" cy="225.0" r="0.98" fill="#3a3a3a" fill-opacity="0.9"/>
<circle cx="407.3" cy="222.8" r="1.04" fill="#3a3a3a" fill-opacity="0.9"/>
<circle cx="404.5" cy="239.0" r="0.64" fill="#3a3a3a" fill-opacity="0.9"/>
<circle cx="401.9" cy="234.3" r="1.00" fill="#3a3a3a" fill-opacity="0.9"/>
<circle cx="403.5" cy="238.5" r="0.88" fill="#3a3a3a" fill-opacity="0.9"/>
<circle cx="404.4" cy="237.4" r="0.50" fill="#3a3a3a" fill-opacity="0.9"/>
<circle cx="405.4" cy="239.5" r="0.80" fill="#3a3a3a" fill-opacity="0.9"/>
<circle cx="403.3" cy="238.8" r="0.54" fill="#3a3a3a" fill-opacity="0.9"/>
<circle cx="404.9" cy="235.5" r="0.54" fill="#3a3a3a" fill-opacity="0.9"/>
<circle cx="401.1" cy="239.3" r="0.62" fill="#3a3a3a" fill-opacity="0.9"/>
<circle cx="403.0" cy="236.6" r="0.79" fill="#3a3a3a" fill-opacity="0.9"/>
<circle cx="404.5" cy="239.6" r="0.87" fill="#3a3a3a" fill-opacity="0.9"/>
<circle cx="404.1" cy="234.1" r="0.59" fill="#3a3a3a" fill-opacity="0.9"/>
<circle cx="401.0" cy="239.4" r="0.68" fill="#3a3a3a" fill-opacity="0.9"/>
<circle cx="403.5" cy="233.6" r="0.54" fill="#3a3a3a" fill-opacity="0.9"/>
<circle cx="401.2" cy="238.9" r="0.92" fill="#3a3a3a" fill-opacity="0.9"/>
<circle cx="404.4" cy="235.8" r="0.81" fill="#3a3a3a" fill-opacity="0.9"/>
<circle cx="402.7" cy="237.2" r="0.57" fill="#3a3a3a" fill-opacity="0.9"/>
<circle cx="420.3" cy="308.4" r="1.09" fill="#3a3a3a" fill-opacity="0.9"/>
<circle cx="413.3" cy="315.8" r="1.08" fill="#3a3a3a" fill-opacity="0.9"/>
<circle cx="413.2" cy="309.2" r="0.63" fill="#3a3a3a" fill-opacity="0.9"/>
<circle cx="415.3" cy="307.7" r="0.81" fill="#3a3a3a" fill-opacity="0.9"/>
<circle cx="419.1" cy="312.1" r="1.03" fill="#3a3a3a" fill-opacity="0.9"/>
<circle cx="417.3" cy="308.8" r="1.04" fill="#3a3a3a" fill-opacity="0.9"/>
<circle cx="413.8" cy="306.3" r="0.50" fill="#3a3a3a" fill-opacity="0.9"/>
<circle cx="413.9" cy="311.4" r="0.68" fill="#3a3a3a" fill-opacity="0.9"/>
<circle cx="408.3" cy="310.1" r="0.69" fill="#3a3a3a" fill-opacity="0.9"/>
<circle cx="418.0" cy="316.1" r="0.57" fill="#3a3a3a" fill-opacity="0.9"/>
<circle cx="420.8" cy="314.6" r="1.04" fill="#3a3a3a" fill-opacity="0.9"/>
<circle cx="410.6" cy="310.5" r="0.74" fill="#3a3a3a" fill-opacity="0.9"/>
<circle cx="411.8" cy="311.1" r="0.67" fill="#3a3a3a" fill-opacity="0.9"/>
<circle cx="419.4" cy="309.4" r="1.06" fill="#3a3a3a" fill-opacity="0.9"/>
<circle cx="410.0" cy="309.2" r="0.81" fill="#3a3a3a" fill-opacity="0.9"/>
<circle cx="409.0" cy="310.5" r="1.07" fill="#3a3a3a" fill-opacity="0.9"/>
<circle cx="420.1" cy="315.7" r="0.88" fill="#3a3a3a" fill-opacity="0.9"/>
<circle cx="414.8" cy="314.6" r="0.53" fill="#3a3a3a" fill-opacity="0.9"/>
<circle cx="417.7" cy="311.4" r="0.95" fill="#3a3a3a" fill-opacity="0.9"/>
<circle cx="416.3" cy="309.4" r="0.53" fill="#3a3a3a" fill-opacity="0.9"/>
<circle cx="413.6" cy="310.1" r="0.68" fill="#3a3a3a" fill-opacity="0.9"/>
<circle cx="410.2" cy="313.9" r="0.68" fill="#3a3a3a" fill-opacity="0.9"/>
<circle cx="414.9" cy="310.7" r="0.60" fill="#3a3a3a" fill-opacity="0.9"/>
<circle cx="408.6" cy="308.5" r="1.04" fill="#3a3a3a" fill-opacity="0.9"/>
<circle cx="414.0" cy="308.6" r="1.04" fill="#3a3a3a" fill-opacity="0.9"/>
<circle cx="421.9" cy="311.4" r="0.58" fill="#3a3a3a" fill-opacity="0.9"/>
<circle cx="411.5" cy="307.1" r="0.64" fill="#3a3a3a" fill-opacity="0.9"/>
<circle cx="410.1" cy="312.8" r="1.03" fill="#3a3a3a" fill-opacity="0.9"/>
<circle cx="418.0" cy="311.0" r="0.75" fill="#3a3a3a" fill-opacity="0.9"/>
<circle cx="414.4" cy="310.5" r="0.70" fill="#3a3a3a" fill-opacity="0.9"/>
<circle cx="482.5" cy="276.3" r="1.08" fill="#3a3a3a" fill-opacity="0.9"/>
<circle cx="484.0" cy="279.0" r="0.88" fill="#3a3a3a" fill-opacity="0.9"/>
<circle cx="501.7" cy="275.6" r="0.66" fill="#3a3a3a" fill-opacity="0.9"/>
<circle cx="487.0" cy="277.8" r="0.77" fill="#3a3a3a" fill-opacity="0.9"/>
<circle cx="502.5" cy="278.7" r="0.85" fill="#3a3a3a" fill-opacity="0.9"/>
<circle cx="487.0" cy="274.3" r="0.59" fill="#3a3a3a" fill-opacity="0.9"/>
<circle cx="493.5" cy="281.2" r="1.06" fill="#3a3a3a" fill-opacity="0.9"/>
<circle cx="498.3" cy="280.8" r="0.96" fill="#3a3a3a" fill-opacity="0.9"/>
<circle cx="492.0" cy="279.6" r="0.52" fill="#3a3a3a" fill-opacity="0.9"/>
<circle cx="499.8" cy="275.8" r="1.05" fill="#3a3a3a" fill-opacity="0.9"/>
<circle cx="496.5" cy="276.6" r="0.58" fill="#3a3a3a" fill-opacity="0.9"/>
<circle cx="487.0" cy="280.6" r="0.92" fill="#3a3a3a" fill-opacity="0.9"/>
<circle cx="493.6" cy="280.0" r="0.73" fill="#3a3a3a" fill-opacity="0.9"/>
<circle cx="486.4" cy="280.2" r="0.51" fill="#3a3a3a" fill-opacity="0.9"/>
<circle cx="488.2" cy="278.5" r="1.08" fill="#3a3a3a" fill-opacity="0.9"/>
<circle cx="496.5" cy="283.6" r="0.79" fill="#3a3a3a" fill-opacity="0.9"/>
<circle cx="486.6" cy="276.0" r="1.08" fill="#3a3a3a" fill-opacity="0.9"/>
<circle cx="497.9" cy="276.7" r="0.51" fill="#3a3a3a" fill-opacity="0.9"/>
<circle cx="493.0" cy="281.1" r="0.75" fill="#3a3a3a" fill-opacity="0.9"/>
<circle cx="487.2" cy="281.0" r="1.06" fill="#3a3a3a" fill-opacity="0.9"/>
<circle cx="489.1" cy="278.0" r="0.91" fill="#3a3a3a" fill-opacity="0.9"/>
<circle cx="485.8" cy="282.6" r="0.94" fill="#3a3a3a" fill-opacity="0.9"/>
<circle cx="493.1" cy="275.5" r="1.08" fill="#3a3a3a" fill-opacity="0.9"/>
<circle cx="488.5" cy="282.8" r="0.64" fill="#3a3a3a" fill-opacity="0.9"/>
<circle cx="486.3" cy="282.1" r="0.68" fill="#3a3a3a" fill-opacity="0.9"/>
<circle cx="503.8" cy="278.9" r="0.61" fill="#3a3a3a" fill-opacity="0.9"/>
<circle cx="486.4" cy="278.0" r="0.90" fill="#3a3a3a" fill-opacity="0.9"/>
<circle cx="490.4" cy="275.6" r="1.08" fill="#3a3a3a" fill-opacity="0.9"/>
<circle cx="482.4" cy="277.7" r="1.04" fill="#3a3a3a" fill-opacity="0.9"/>
<circle cx="502.2" cy="281.8" r="1.10" fill="#3a3a3a" fill-opacity="0.9"/>
<circle cx="503.4" cy="277.0" r="0.61" fill="#3a3a3a" fill-opacity="0.9"/>
<circle cx="481.8" cy="281.0" r="0.73" fill="#3a3a3a" fill-opacity="0.9"/>
<circle cx="490.0" cy="277.0" r="0.60" fill="#3a3a3a" fill-opacity="0.9"/>
<circle cx="489.4" cy="284.5" r="0.57" fill="#3a3a3a" fill-opacity="0.9"/>
<circle cx="489.6" cy="282.9" r="0.99" fill="#3a3a3a" fill-opacity="0.9"/>
<circle cx="498.1" cy="287.4" r="0.78" fill="#3a3a3a" fill-opacity="0.9"/>
<circle cx="497.2" cy="311.7" r="0.62" fill="#3a3a3a" fill-opacity="0.9"/>
<circle cx="497.1" cy="311.1" r="0.52" fill="#3a3a3a" fill-opacity="0.9"/>
<circle cx="497.8" cy="308.7" r="0.96" fill="#3a3a3a" fill-opacity="0.9"/>
<circle cx="495.6" cy="306.9" r="1.04" fill="#3a3a3a" fill-opacity="0.9"/>
<circle cx="496.7" cy="293.6" r="1.07" fill="#3a3a3a" fill-opacity="0.9"/>
<circle cx="500.6" cy="293.3" r="0.93" fill="#3a3a3a" fill-opacity="0.9"/>
<circle cx="496.4" cy="293.7" r="0.50" fill="#3a3a3a" fill-opacity="0.9"/>
<circle cx="502.6" cy="311.7" r="0.88" fill="#3a3a3a" fill-opacity="0.9"/>
<circle cx="495.3" cy="299.3" r="1.07" fill="#3a3a3a" fill-opacity="0.9"/>
<circle cx="505.4" cy="296.8" r="0.65" fill="#3a3a3a" fill-opacity="0.9"/>
<circle cx="498.0" cy="299.8" r="1.06" fill="#3a3a3a" fill-opacity="0.9"/>
<circle cx="494.6" cy="308.5" r="0.94" fill="#3a3a3a" fill-opacity="0.9"/>
<circle cx="503.5" cy="307.6" r="0.86" fill="#3a3a3a" fill-opacity="0.9"/>
<circle cx="496.6" cy="294.9" r="0.72" fill="#3a3a3a" fill-opacity="0.9"/>
<circle cx="494.8" cy="307.1" r="0.65" fill="#3a3a3a" fill-opacity="0.9"/>
<circle cx="499.7" cy="295.1" r="1.09" fill="#3a3a3a" fill-opacity="0.9"/>
<circle cx="495.7" cy="288.4" r="0.56" fill="#3a3a3a" fill-opacity="0.9"/>
<circle cx="499.0" cy="305.9" r="0.77" fill="#3a3a3a" fill-opacity="0.9"/>
<circle cx="495.3" cy="297.7" r="0.87" fill="#3a3a3a" fill-opacity="0.9"/>
<circle cx="501.4" cy="306.9" r="1.01" fill="#3a3a3a" fill-opacity="0.9"/>
<circle cx="501.3" cy="289.4" r="1.00" fill="#3a3a3a" fill-opacity="0.9"/>
<circle cx="496.1" cy="301.9" r="0.72" fill="#3a3a3a" fill-opacity="0.9"/>
<circle cx="502.3" cy="291.6" r="0.65" fill="#3a3a3a" fill-opacity="0.9"/>
<circle cx="495.4" cy="290.3" r="1.03" fill="#3a3a3a" fill-opacity="0.9"/>
<circle cx="500.1" cy="295.1" r="0.74" fill="#3a3a3a" fill-opacity="0.9"/>
<circle cx="505.9" cy="300.2" r="0.64" fill="#3a3a3a" fill-opacity="0.9"/>
<circle cx="503.3" cy="304.3" r="1.09" fill="#3a3a3a" fill-opacity="0.9"/>
<circle cx="493.4" cy="299.3" r="0.99" fill="#3a3a3a" fill-opacity="0.9"/>
<circle cx="493.7" cy="291.3" r="1.08" fill="#3a3a3a" fill-opacity="0.9"/>
<circle cx="500.2" cy="312.0" r="0.72" fill="#3a3a3a" fill-opacity="0.9"/>
<circle cx="504.1" cy="298.6" r="0.66" fill="#3a3a3a" fill-opacity="0.9"/>
<circle cx="493.5" cy="302.7" r="0.87" fill="#3a3a3a" fill-opacity="0.9"/>
<circle cx="495.0" cy="296.3" r="0.58" fill="#3a3a3a" fill-opacity="0.9"/>
<circle cx="494.9" cy="293.1" r="0.86" fill="#3a3a3a" fill-opacity="0.9"/>
<circle cx="506.2" cy="314.4" r="0.51" fill="#3a3a3a" fill-opacity="0.9"/>
<circle cx="503.6" cy="320.1" r="0.61" fill="#3a3a3a" fill-opacity="0.9"/>
<circle cx="503.5" cy="314.4" r="0.98" fill="#3a3a3a" fill-opacity="0.9"/>
<circle cx="505.4" cy="312.8" r="0.56" fill="#3a3a3a" fill-opacity="0.9"/>
<circle cx="504.2" cy="318.6" r="0.88" fill="#3a3a3a" fill-opacity="0.9"/>
<circle cx="506.6" cy="316.9" r="0.67" fill="#3a3a3a" fill-opacity="0.9"/>
<circle cx="503.5" cy="323.4" r="0.69" fill="#3a3a3a" fill-opacity="0.9"/>
<circle cx="505.5" cy="316.3" r="0.75" fill="#3a3a3a" fill-opacity="0.9"/>
<circle cx="503.9" cy="314.4" r="0.94" fill="#3a3a3a" fill-opacity="0.9"/>
<circle cx="508.2" cy="317.1" r="0.99" fill="#3a3a3a" fill-opacity="0.9"/>
<circle cx="458.2" cy="236.1" r="0.78" fill="#3a3a3a" fill-opacity="0.9"/>
<circle cx="459.4" cy="234.1" r="1.05" fill="#3a3a3a" fill-opacity="0.9"/>
<circle cx="455.7" cy="234.0" r="0.72" fill="#3a3a3a" fill-opacity="0.9"/>
<circle cx="459.0" cy="230.2" r="0.67" fill="#3a3a3a" fill-opacity="0.9"/>
<circle cx="459.2" cy="236.4" r="0.57" fill="#3a3a3a" fill-opacity="0.9"/>
<circle cx="458.9" cy="235.4" r="1.08" fill="#3a3a3a" fill-opacity="0.9"/>
<circle cx="456.6" cy="230.0" r="1.07" fill="#3a3a3a" fill-opacity="0.9"/>
<circle cx="462.8" cy="232.9" r="0.53" fill="#3a3a3a" fill-opacity="0.9"/>
<circle cx="462.4" cy="232.1" r="1.04" fill="#3a3a3a" fill-opacity="0.9"/>
<circle cx="460.0" cy="235.6" r="0.60" fill="#3a3a3a" fill-opacity="0.9"/>
<circle cx="450.0" cy="215.9" r="0.74" fill="#3a3a3a" fill-opacity="0.9"/>
<circle cx="450.8" cy="218.3" r="0.61" fill="#3a3a3a" fill-opacity="0.9"/>
<circle cx="442.1" cy="216.6" r="0.81" fill="#3a3a3a" fill-opacity="0.9"/>
<circle cx="444.4" cy="215.5" r="0.65" fill="#3a3a3a" fill-opacity="0.9"/>
<circle cx="449.1" cy="218.6" r="0.52" fill="#3a3a3a" fill-opacity="0.9"/>
<circle cx="446.9" cy="218.0" r="0.52" fill="#3a3a3a" fill-opacity="0.9"/>
<circle cx="447.4" cy="217.2" r="0.88" fill="#3a3a3a" fill-opacity="0.9"/>
<circle cx="443.3" cy="216.7" r="0.85" fill="#3a3a3a" fill-opacity="0.9"/>
<circle cx="445.0" cy="217.6" r="0.77" fill="#3a3a3a" fill-opacity="0.9"/>
<circle cx="445.1" cy="215.1" r="0.87" fill="#3a3a3a" fill-opacity="0.9"/>
<circle cx="477.7" cy="215.7" r="0.96" fill="#3a3a3a" fill-opacity="0.9"/>
<circle cx="485.8" cy="216.4" r="0.61" fill="#3a3a3a" fill-opacity="0.9"/>
<circle cx="477.3" cy="215.3" r="0.58" fill="#3a3a3a" fill-opacity="0.9"/>
<circle cx="476.1" cy="215.3" r="0.77" fill="#3a3a3a" fill-opacity="0.9"/>
<circle cx="478.3" cy="215.1" r="0.88" fill="#3a3a3a" fill-opacity="0.9"/>
<circle cx="466.3" cy="217.2" r="0.97" fill="#3a3a3a" fill-opacity="0.9"/>
<circle cx="478.3" cy="215.2" r="0.80" fill="#3a3a3a" fill-opacity="0.9"/>
<circle cx="474.6" cy="217.9" r="0.58" fill="#3a3a3a" fill-opacity="0.9"/>
<circle cx="484.5" cy="217.4" r="0.62" fill="#3a3a3a" fill-opacity="0.9"/>
<circle cx="491.5" cy="216.5" r="1.07" fill="#3a3a3a" fill-opacity="0.9"/>
<circle cx="501.4" cy="238.8" r="0.95" fill="#3a3a3a" fill-opacity="0.9"/>
<circle cx="502.6" cy="242.5" r="0.59" fill="#3a3a3a" fill-opacity="0.9"/>
<circle cx="504.0" cy="243.4" r="0.62" fill="#3a3a3a" fill-opacity="0.9"/>
<circle cx="502.6" cy="240.0" r="0.69" fill="#3a3a3a" fill-opacity="0.9"/>
<circle cx="505.1" cy="243.2" r="0.60" fill="#3a3a3a" fill-opacity="0.9"/>
<circle cx="505.7" cy="236.9" r="0.82" fill="#3a3a3a" fill-opacity="0.9"/>
<circle cx="499.5" cy="265.2" r="1.02" fill="#3a3a3a" fill-opacity="0.9"/>
<circle cx="498.0" cy="266.5" r="1.03" fill="#3a3a3a" fill-opacity="0.9"/>
<circle cx="499.3" cy="265.4" r="0.98" fill="#3a3a3a" fill-opacity="0.9"/>
<circle cx="498.4" cy="265.2" r="0.96" fill="#3a3a3a" fill-opacity="0.9"/>
<circle cx="496.0" cy="264.1" r="0.95" fill="#3a3a3a" fill-opacity="0.9"/>
<circle cx="492.6" cy="266.8" r="1.09" fill="#3a3a3a" fill-opacity="0.9"/>
<circle cx="498.5" cy="267.0" r="0.69" fill="#3a3a3a" fill-opacity="0.9"/>
<circle cx="490.7" cy="266.7" r="0.76" fill="#3a3a3a" fill-opacity="0.9"/>
<circle cx="497.2" cy="268.4" r="0.58" fill="#3a3a3a" fill-opacity="0.9"/>
<circle cx="492.1" cy="266.9" r="0.51" fill="#3a3a3a" fill-opacity="0.9"/>
<circle cx="489.9" cy="265.1" r="0.63" fill="#3a3a3a" fill-opacity="0.9"/>
<circle cx="498.5" cy="266.5" r="0.62" fill="#3a3a3a" fill-opacity="0.9"/>
<circle cx="499.2" cy="265.8" r="0.58" fill="#3a3a3a" fill-opacity="0.9"/>
<circle cx="499.5" cy="268.2" r="0.97" fill="#3a3a3a" fill-opacity="0.9"/>
<circle cx="495.2" cy="264.6" r="0.51" fill="#3a3a3a" fill-opacity="0.9"/>
<circle cx="499.6" cy="266.4" r="0.71" fill="#3a3a3a" fill-opacity="0.9"/>
<circle cx="499.6" cy="265.7" r="1.06" fill="#3a3a3a" fill-opacity="0.9"/>
<circle cx="501.2" cy="264.5" r="1.04" fill="#3a3a3a" fill-opacity="0.9"/>
<circle cx="499.4" cy="290.6" r="0.74" fill="#3a3a3a" fill-opacity="0.9"/>
<circle cx="503.4" cy="298.8" r="0.59" fill="#3a3a3a" fill-opacity="0.9"/>
<circle cx="500.6" cy="292.2" r="0.80" fill="#3a3a3a" fill-opacity="0.9"/>
<circle cx="504.1" cy="296.3" r="0.60" fill="#3a3a3a" fill-opacity="0.9"/>
<circle cx="501.5" cy="286.0" r="0.53" fill="#3a3a3a" fill-opacity="0.9"/>
<circle cx="506.1" cy="295.7" r="0.93" fill="#3a3a3a" fill-opacity="0.9"/>
<circle cx="505.0" cy="289.3" r="0.95" fill="#3a3a3a" fill-opacity="0.9"/>
<circle cx="502.6" cy="284.5" r="0.56" fill="#3a3a3a" fill-opacity="0.9"/>
<circle cx="501.7" cy="295.0" r="0.92" fill="#3a3a3a" fill-opacity="0.9"/>
<circle cx="505.8" cy="294.2" r="0.66" fill="#3a3a3a" fill-opacity="0.9"/>
<circle cx="503.4" cy="288.7" r="0.97" fill="#3a3a3a" fill-opacity="0.9"/>
<circle cx="503.2" cy="285.3" r="0.89" fill="#3a3a3a" fill-opacity="0.9"/>
<circle cx="501.1" cy="284.7" r="0.95" fill="#3a3a3a" fill-opacity="0.9"/>
<circle cx="501.6" cy="297.6" r="0.70" fill="#3a3a3a" fill-opacity="0.9"/>
<circle cx="500.9" cy="298.2" r="0.88" fill="#3a3a3a" fill-opacity="0.9"/>
<circle cx="504.5" cy="293.3" r="1.09" fill="#3a3a3a" fill-opacity="0.9"/>
<circle cx="502.8" cy="296.8" r="0.92" fill="#3a3a3a" fill-opacity="0.9"/>
<circle cx="505.9" cy="288.7" r="0.93" fill="#3a3a3a" fill-opacity="0.9"/>
<circle cx="503.6" cy="286.2" r="0.63" fill="#3a3a3a" fill-opacity="0.9"/>
<circle cx="504.0" cy="281.6" r="1.05" fill="#3a3a3a" fill-opacity="0.9"/>
<circle cx="486.8" cy="314.4" r="0.52" fill="#3a3a3a" fill-opacity="0.9"/>
<circle cx="484.3" cy="319.9" r="0.88" fill="#3a3a3a" fill-opacity="0.9"/>
<circle cx="489.6" cy="320.4" r="0.54" fill="#3a3a3a" fill-opacity="0.9"/>
<circle cx="488.7" cy="316.6" r="0.99" fill="#3a3a3a" fill-opacity="0.9"/>
<circle cx="484.9" cy="315.1" r="0.57" fill="#3a3a3a" fill-opacity="0.9"/>
<circle cx="490.5" cy="319.3" r="1.00" fill="#3a3a3a" fill-opacity="0.9"/>
<circle cx="489.1" cy="315.9" r="0.56" fill="#3a3a3a" fill-opacity="0.9"/>
<circle cx="484.8" cy="320.6" r="0.62" fill="#3a3a3a" fill-opacity="0.9"/>
<circle cx="486.6" cy="317.2" r="0.51" fill="#3a3a3a" fill-opacity="0.9"/>
<circle cx="486.1" cy="315.8" r="0.93" fill="#3a3a3a" fill-opacity="0.9"/>
<circle cx="455.2" cy="229.6" r="1.08" fill="#3a3a3a" fill-opacity="0.9"/>
<circle cx="456.0" cy="233.8" r="0.87" fill="#3a3a3a" fill-opacity="0.9"/>
<circle cx="453.2" cy="230.3" r="0.76" fill="#3a3a3a" fill-opacity="0.9"/>
<circle cx="457.6" cy="229.8" r="0.92" fill="#3a3a3a" fill-opacity="0.9"/>
<circle cx="456.2" cy="228.7" r="1.02" fill="#3a3a3a" fill-opacity="0.9"/>
<circle cx="454.2" cy="233.1" r="1.09" fill="#3a3a3a" fill-opacity="0.9"/>
<circle cx="453.0" cy="230.9" r="0.79" fill="#3a3a3a" fill-opacity="0.9"/>
<circle cx="457.8" cy="228.5" r="0.80" fill="#3a3a3a" fill-opacity="0.9"/>
<circle cx="422.9" cy="218.0" r="0.66" fill="#3a3a3a" fill-opacity="0.9"/>
<circle cx="434.9" cy="216.4" r="0.63" fill="#3a3a3a" fill-opacity="0.9"/>
<circle cx="430.0" cy="217.0" r="0.57" fill="#3a3a3a" fill-opacity="0.9"/>
<circle cx="428.7" cy="215.7" r="0.97" fill="#3a3a3a" fill-opacity="0.9"/>
<circle cx="429.9" cy="217.9" r="0.88" fill="#3a3a3a" fill-opacity="0.9"/>
<circle cx="423.1" cy="216.7" r="0.74" fill="#3a3a3a" fill-opacity="0.9"/>
<circle cx="420.1" cy="216.3" r="1.04" fill="#3a3a3a" fill-opacity="0.9"/>
<circle cx="426.0" cy="216.6" r="1.03" fill="#3a3a3a" fill-opacity="0.9"/>
<circle cx="420.7" cy="216.9" r="0.82" fill="#3a3a3a" fill-opacity="0.9"/>
<circle cx="431.1" cy="217.8" r="0.89" fill="#3a3a3a" fill-opacity="0.9"/>
<path d="M458.4,215 C459,219 460,223 462.6,225.2 C465,229 468,232 471,233.6 C475,236.5 479,238.3 482.1,238.5 C487,238.8 492,237 496.1,235 C500,232 502,230 503.1,228 C505,224 506,221 506.7,218 L506.7,215 Z" fill="#8e8e8e" stroke="#777" stroke-width="0.6"/>
<path d="M409,237.8 C409.5,231 414,224 424.4,219.6 C430,218 436,218.8 441.1,222.4 C446,226 449.5,231 450.9,236.4 C452.3,241 452.6,245 452.3,249 C451.5,253.5 450,257 448.1,260.1 C445,263.5 441,265.5 436.9,265.7 C432,265.8 427,263 423,260.1 C418,257 414,253.5 411.8,250.3 C409.8,246 408.8,242 409,237.8 Z" fill="#6c6c6c" stroke="#3a3a3a" stroke-width="0.7" filter="url(#mot2)"/>
<circle cx="424.9" cy="235.2" r="0.70" fill="#242424" fill-opacity="0.95"/>
<circle cx="444.7" cy="249.3" r="0.91" fill="#242424" fill-opacity="0.95"/>
<circle cx="417.8" cy="239.9" r="0.92" fill="#242424" fill-opacity="0.95"/>
<circle cx="434.2" cy="226.8" r="0.81" fill="#242424" fill-opacity="0.95"/>
<circle cx="418.7" cy="234.2" r="0.90" fill="#242424" fill-opacity="0.95"/>
<circle cx="424.1" cy="243.4" r="0.71" fill="#242424" fill-opacity="0.95"/>
<circle cx="424.1" cy="229.4" r="0.99" fill="#242424" fill-opacity="0.95"/>
<circle cx="442.8" cy="252.3" r="0.80" fill="#242424" fill-opacity="0.95"/>
<circle cx="418.8" cy="248.3" r="0.69" fill="#242424" fill-opacity="0.95"/>
<circle cx="419.3" cy="237.8" r="0.66" fill="#242424" fill-opacity="0.95"/>
<circle cx="427.0" cy="254.7" r="0.89" fill="#242424" fill-opacity="0.95"/>
<circle cx="431.0" cy="248.1" r="0.81" fill="#242424" fill-opacity="0.95"/>
<circle cx="416.7" cy="246.9" r="0.79" fill="#242424" fill-opacity="0.95"/>
<circle cx="428.2" cy="245.6" r="0.91" fill="#242424" fill-opacity="0.95"/>
<circle cx="427.8" cy="231.1" r="0.90" fill="#242424" fill-opacity="0.95"/>
<circle cx="439.0" cy="257.3" r="0.89" fill="#242424" fill-opacity="0.95"/>
<circle cx="436.7" cy="240.6" r="0.76" fill="#242424" fill-opacity="0.95"/>
<circle cx="436.1" cy="225.6" r="0.80" fill="#242424" fill-opacity="0.95"/>
<circle cx="442.3" cy="251.5" r="0.87" fill="#242424" fill-opacity="0.95"/>
<circle cx="421.0" cy="239.3" r="0.81" fill="#242424" fill-opacity="0.95"/>
<circle cx="435.9" cy="238.7" r="0.89" fill="#242424" fill-opacity="0.95"/>
<circle cx="437.2" cy="254.2" r="0.79" fill="#242424" fill-opacity="0.95"/>
<circle cx="415.0" cy="245.6" r="0.84" fill="#242424" fill-opacity="0.95"/>
<circle cx="439.7" cy="243.0" r="0.87" fill="#242424" fill-opacity="0.95"/>
<circle cx="444.2" cy="243.4" r="0.79" fill="#242424" fill-opacity="0.95"/>
<circle cx="438.4" cy="238.0" r="0.92" fill="#242424" fill-opacity="0.95"/>
<circle cx="422.0" cy="238.3" r="0.65" fill="#242424" fill-opacity="0.95"/>
<circle cx="427.7" cy="239.2" r="0.89" fill="#242424" fill-opacity="0.95"/>
<circle cx="425.1" cy="232.6" r="0.73" fill="#242424" fill-opacity="0.95"/>
<circle cx="432.1" cy="230.7" r="0.93" fill="#242424" fill-opacity="0.95"/>
<circle cx="426.7" cy="230.4" r="0.70" fill="#242424" fill-opacity="0.95"/>
<circle cx="442.1" cy="255.5" r="0.87" fill="#242424" fill-opacity="0.95"/>
<circle cx="429.8" cy="245.1" r="0.73" fill="#242424" fill-opacity="0.95"/>
<circle cx="436.6" cy="255.9" r="0.94" fill="#242424" fill-opacity="0.95"/>
<circle cx="429.7" cy="233.9" r="0.84" fill="#242424" fill-opacity="0.95"/>
<circle cx="425.2" cy="257.2" r="0.74" fill="#242424" fill-opacity="0.95"/>
<circle cx="426.0" cy="232.1" r="0.80" fill="#242424" fill-opacity="0.95"/>
<circle cx="439.9" cy="233.3" r="0.74" fill="#242424" fill-opacity="0.95"/>
<circle cx="423.1" cy="241.6" r="0.80" fill="#242424" fill-opacity="0.95"/>
<circle cx="436.5" cy="249.2" r="0.78" fill="#242424" fill-opacity="0.95"/>
<circle cx="437.2" cy="232.0" r="0.69" fill="#242424" fill-opacity="0.95"/>
<circle cx="442.1" cy="236.1" r="0.70" fill="#242424" fill-opacity="0.95"/>
<circle cx="435.3" cy="254.3" r="0.88" fill="#242424" fill-opacity="0.95"/>
<circle cx="438.7" cy="243.8" r="0.91" fill="#242424" fill-opacity="0.95"/>
<circle cx="428.5" cy="258.6" r="0.84" fill="#242424" fill-opacity="0.95"/>
<circle cx="421.6" cy="231.3" r="0.70" fill="#242424" fill-opacity="0.95"/>
<circle cx="429.7" cy="227.6" r="0.82" fill="#242424" fill-opacity="0.95"/>
<circle cx="430.9" cy="244.2" r="0.95" fill="#242424" fill-opacity="0.95"/>
<circle cx="429.7" cy="245.1" r="0.88" fill="#242424" fill-opacity="0.95"/>
<circle cx="444.6" cy="237.2" r="0.80" fill="#242424" fill-opacity="0.95"/>
<circle cx="436.5" cy="248.2" r="0.66" fill="#242424" fill-opacity="0.95"/>
<circle cx="435.4" cy="250.2" r="0.98" fill="#242424" fill-opacity="0.95"/>
<circle cx="431.4" cy="241.9" r="0.96" fill="#242424" fill-opacity="0.95"/>
<circle cx="436.0" cy="235.7" r="0.95" fill="#242424" fill-opacity="0.95"/>
<circle cx="425.6" cy="241.4" r="0.83" fill="#242424" fill-opacity="0.95"/>
<circle cx="441.8" cy="230.4" r="0.80" fill="#242424" fill-opacity="0.95"/>
<circle cx="427.9" cy="244.8" r="0.94" fill="#242424" fill-opacity="0.95"/>
<circle cx="422.7" cy="256.3" r="0.79" fill="#242424" fill-opacity="0.95"/>
<circle cx="431.1" cy="232.9" r="0.83" fill="#242424" fill-opacity="0.95"/>
<circle cx="442.7" cy="235.4" r="0.76" fill="#242424" fill-opacity="0.95"/>
<circle cx="423.0" cy="246.1" r="0.87" fill="#242424" fill-opacity="0.95"/>
<circle cx="435.3" cy="249.1" r="0.93" fill="#242424" fill-opacity="0.95"/>
<circle cx="447.4" cy="247.2" r="0.87" fill="#242424" fill-opacity="0.95"/>
<circle cx="436.1" cy="250.7" r="0.86" fill="#242424" fill-opacity="0.95"/>
<circle cx="438.2" cy="230.4" r="0.88" fill="#242424" fill-opacity="0.95"/>
<circle cx="429.3" cy="253.5" r="0.69" fill="#242424" fill-opacity="0.95"/>
<circle cx="437.2" cy="237.0" r="0.94" fill="#242424" fill-opacity="0.95"/>
<circle cx="442.5" cy="245.1" r="0.74" fill="#242424" fill-opacity="0.95"/>
<circle cx="423.1" cy="239.2" r="0.76" fill="#242424" fill-opacity="0.95"/>
<circle cx="428.2" cy="248.5" r="0.98" fill="#242424" fill-opacity="0.95"/>
<circle cx="443.4" cy="245.7" r="0.97" fill="#242424" fill-opacity="0.95"/>
<circle cx="426.5" cy="246.4" r="0.98" fill="#242424" fill-opacity="0.95"/>
<circle cx="427.5" cy="225.8" r="0.88" fill="#242424" fill-opacity="0.95"/>
<circle cx="438.4" cy="226.6" r="0.99" fill="#242424" fill-opacity="0.95"/>
<circle cx="439.8" cy="231.7" r="0.91" fill="#242424" fill-opacity="0.95"/>
<circle cx="442.0" cy="251.5" r="0.95" fill="#242424" fill-opacity="0.95"/>
<circle cx="436.1" cy="251.3" r="0.81" fill="#242424" fill-opacity="0.95"/>
<circle cx="437.0" cy="255.8" r="0.68" fill="#242424" fill-opacity="0.95"/>
<circle cx="423.4" cy="252.1" r="0.71" fill="#242424" fill-opacity="0.95"/>
<circle cx="445.4" cy="241.9" r="0.67" fill="#242424" fill-opacity="0.95"/>
<circle cx="425.7" cy="245.6" r="0.80" fill="#242424" fill-opacity="0.95"/>
<circle cx="438.1" cy="227.6" r="0.93" fill="#242424" fill-opacity="0.95"/>
<circle cx="425.5" cy="248.6" r="0.87" fill="#242424" fill-opacity="0.95"/>
<circle cx="427.7" cy="237.7" r="0.93" fill="#242424" fill-opacity="0.95"/>
<circle cx="433.7" cy="233.8" r="0.67" fill="#242424" fill-opacity="0.95"/>
<circle cx="444.1" cy="235.4" r="0.86" fill="#242424" fill-opacity="0.95"/>
<circle cx="435.0" cy="234.5" r="0.80" fill="#242424" fill-opacity="0.95"/>
<circle cx="446.5" cy="237.3" r="0.89" fill="#242424" fill-opacity="0.95"/>
<circle cx="435.1" cy="259.1" r="0.93" fill="#242424" fill-opacity="0.95"/>
<circle cx="421.5" cy="239.2" r="0.86" fill="#242424" fill-opacity="0.95"/>
<circle cx="433.9" cy="233.0" r="0.95" fill="#242424" fill-opacity="0.95"/>
<circle cx="443.3" cy="250.3" r="0.97" fill="#242424" fill-opacity="0.95"/>
<circle cx="433.1" cy="255.0" r="0.72" fill="#242424" fill-opacity="0.95"/>
<circle cx="420.4" cy="247.0" r="0.89" fill="#242424" fill-opacity="0.95"/>
<circle cx="429.6" cy="230.2" r="0.74" fill="#242424" fill-opacity="0.95"/>
<circle cx="441.0" cy="254.7" r="0.81" fill="#242424" fill-opacity="0.95"/>
<circle cx="441.9" cy="231.3" r="0.85" fill="#242424" fill-opacity="0.95"/>
<circle cx="431.9" cy="241.5" r="0.86" fill="#242424" fill-opacity="0.95"/>
<circle cx="418.2" cy="250.9" r="0.78" fill="#242424" fill-opacity="0.95"/>
<circle cx="433.6" cy="238.4" r="0.83" fill="#242424" fill-opacity="0.95"/>
<circle cx="415.2" cy="248.1" r="0.93" fill="#242424" fill-opacity="0.95"/>
<circle cx="417.2" cy="246.6" r="0.77" fill="#242424" fill-opacity="0.95"/>
<circle cx="445.6" cy="241.9" r="0.85" fill="#242424" fill-opacity="0.95"/>
<circle cx="421.5" cy="254.2" r="0.80" fill="#242424" fill-opacity="0.95"/>
<circle cx="433.3" cy="258.1" r="0.81" fill="#242424" fill-opacity="0.95"/>
<circle cx="426.9" cy="226.5" r="0.99" fill="#242424" fill-opacity="0.95"/>
<circle cx="421.3" cy="245.2" r="0.87" fill="#242424" fill-opacity="0.95"/>
<circle cx="426.7" cy="240.3" r="0.71" fill="#242424" fill-opacity="0.95"/>
<circle cx="421.2" cy="236.3" r="0.97" fill="#242424" fill-opacity="0.95"/>
<circle cx="439.4" cy="248.7" r="0.99" fill="#242424" fill-opacity="0.95"/>
<circle cx="438.1" cy="234.0" r="0.86" fill="#242424" fill-opacity="0.95"/>
<circle cx="424.0" cy="232.3" r="0.69" fill="#242424" fill-opacity="0.95"/>
<circle cx="430.3" cy="228.6" r="0.73" fill="#242424" fill-opacity="0.95"/>
<circle cx="416.7" cy="250.0" r="0.65" fill="#242424" fill-opacity="0.95"/>
<circle cx="439.7" cy="229.7" r="0.66" fill="#242424" fill-opacity="0.95"/>
<circle cx="428.9" cy="225.6" r="0.98" fill="#242424" fill-opacity="0.95"/>
<circle cx="444.7" cy="247.9" r="0.81" fill="#242424" fill-opacity="0.95"/>
<circle cx="424.6" cy="256.1" r="0.82" fill="#242424" fill-opacity="0.95"/>
<circle cx="436.1" cy="227.5" r="0.73" fill="#242424" fill-opacity="0.95"/>
<circle cx="433.1" cy="227.6" r="0.95" fill="#242424" fill-opacity="0.95"/>
<circle cx="421.7" cy="238.8" r="0.70" fill="#242424" fill-opacity="0.95"/>
<circle cx="421.8" cy="256.8" r="0.77" fill="#242424" fill-opacity="0.95"/>
<circle cx="417.7" cy="242.1" r="0.76" fill="#242424" fill-opacity="0.95"/>
<circle cx="419.4" cy="241.6" r="0.75" fill="#242424" fill-opacity="0.95"/>
<circle cx="421.3" cy="230.0" r="0.78" fill="#242424" fill-opacity="0.95"/>
<circle cx="424.6" cy="227.4" r="0.65" fill="#242424" fill-opacity="0.95"/>
<circle cx="444.3" cy="243.6" r="0.72" fill="#242424" fill-opacity="0.95"/>
<circle cx="428.4" cy="259.8" r="0.73" fill="#242424" fill-opacity="0.95"/>
<circle cx="433.9" cy="227.3" r="0.71" fill="#242424" fill-opacity="0.95"/>
<circle cx="441.8" cy="251.4" r="0.72" fill="#242424" fill-opacity="0.95"/>
<line x1="460.8" y1="220.4" x2="443" y2="232.3" stroke="#000" stroke-width="0.9"/>
<path d="M440.6,233.9 L444.8,229.9 L445.9,232.6 Z" fill="#000"/>
<ellipse cx="492" cy="251" rx="12.8" ry="11.3" transform="rotate(32 492 251)" fill="#7a7a7a" stroke="#5a5a5a" stroke-width="0.7"/>
<circle cx="486.6" cy="244" r="1.3" fill="#e8e8e8"/><circle cx="496.1" cy="258.7" r="1.3" fill="#222"/>
<circle cx="493.9" cy="252.1" r="0.51" fill="#4a4a4a" fill-opacity="0.8"/>
<circle cx="485.9" cy="249.6" r="0.68" fill="#4a4a4a" fill-opacity="0.8"/>
<circle cx="496.5" cy="255.6" r="0.48" fill="#4a4a4a" fill-opacity="0.8"/>
<circle cx="488.3" cy="253.4" r="0.42" fill="#4a4a4a" fill-opacity="0.8"/>
<circle cx="498.8" cy="251.8" r="0.74" fill="#4a4a4a" fill-opacity="0.8"/>
<circle cx="498.2" cy="254.8" r="0.41" fill="#4a4a4a" fill-opacity="0.8"/>
<circle cx="499.2" cy="255.0" r="0.75" fill="#4a4a4a" fill-opacity="0.8"/>
<circle cx="491.0" cy="243.7" r="0.73" fill="#4a4a4a" fill-opacity="0.8"/>
<circle cx="493.0" cy="244.5" r="0.55" fill="#4a4a4a" fill-opacity="0.8"/>
<circle cx="492.9" cy="250.4" r="0.61" fill="#4a4a4a" fill-opacity="0.8"/>
<circle cx="486.9" cy="252.3" r="0.55" fill="#4a4a4a" fill-opacity="0.8"/>
<circle cx="491.8" cy="251.1" r="0.61" fill="#4a4a4a" fill-opacity="0.8"/>
<circle cx="484.7" cy="253.2" r="0.41" fill="#4a4a4a" fill-opacity="0.8"/>
<circle cx="493.0" cy="253.2" r="0.61" fill="#4a4a4a" fill-opacity="0.8"/>
<path d="M452.8,260.1 C452.5,255 454,251 455.6,249 C458,246 461,244 464,244 C469,244 474,246 476.6,249 C479.5,251.5 482,254 482.8,256 C483.5,260 483,264 482.1,267.1 C480.5,272 476,277 468.2,279 C463,279.5 458.5,277 455.6,273 C453.5,269 452.8,264 452.8,260.1 Z" fill="#6c6c6c" stroke="#3a3a3a" stroke-width="0.7" filter="url(#mot2)"/>
<circle cx="467.6" cy="261.6" r="0.75" fill="#242424" fill-opacity="0.95"/>
<circle cx="457.2" cy="258.6" r="0.70" fill="#242424" fill-opacity="0.95"/>
<circle cx="470.4" cy="273.2" r="0.70" fill="#242424" fill-opacity="0.95"/>
<circle cx="469.8" cy="269.5" r="0.71" fill="#242424" fill-opacity="0.95"/>
<circle cx="464.7" cy="259.1" r="0.94" fill="#242424" fill-opacity="0.95"/>
<circle cx="468.5" cy="258.3" r="0.98" fill="#242424" fill-opacity="0.95"/>
<circle cx="475.6" cy="256.4" r="0.73" fill="#242424" fill-opacity="0.95"/>
<circle cx="463.2" cy="259.5" r="0.99" fill="#242424" fill-opacity="0.95"/>
<circle cx="460.8" cy="259.1" r="0.87" fill="#242424" fill-opacity="0.95"/>
<circle cx="464.0" cy="262.6" r="0.67" fill="#242424" fill-opacity="0.95"/>
<circle cx="465.9" cy="261.8" r="0.66" fill="#242424" fill-opacity="0.95"/>
<circle cx="471.5" cy="271.5" r="0.96" fill="#242424" fill-opacity="0.95"/>
<circle cx="471.8" cy="254.1" r="0.89" fill="#242424" fill-opacity="0.95"/>
<circle cx="461.5" cy="263.0" r="0.97" fill="#242424" fill-opacity="0.95"/>
<circle cx="471.2" cy="253.6" r="0.83" fill="#242424" fill-opacity="0.95"/>
<circle cx="461.9" cy="255.4" r="0.88" fill="#242424" fill-opacity="0.95"/>
<circle cx="457.2" cy="264.6" r="0.98" fill="#242424" fill-opacity="0.95"/>
<circle cx="468.2" cy="254.2" r="0.81" fill="#242424" fill-opacity="0.95"/>
<circle cx="468.7" cy="250.3" r="0.69" fill="#242424" fill-opacity="0.95"/>
<circle cx="457.5" cy="255.0" r="0.79" fill="#242424" fill-opacity="0.95"/>
<circle cx="461.9" cy="253.4" r="0.68" fill="#242424" fill-opacity="0.95"/>
<circle cx="469.1" cy="272.5" r="0.86" fill="#242424" fill-opacity="0.95"/>
<circle cx="469.8" cy="266.4" r="0.72" fill="#242424" fill-opacity="0.95"/>
<circle cx="473.7" cy="260.3" r="0.84" fill="#242424" fill-opacity="0.95"/>
<circle cx="471.0" cy="260.6" r="0.76" fill="#242424" fill-opacity="0.95"/>
<circle cx="460.6" cy="252.7" r="0.83" fill="#242424" fill-opacity="0.95"/>
<circle cx="464.5" cy="264.3" r="0.65" fill="#242424" fill-opacity="0.95"/>
<circle cx="463.7" cy="273.2" r="0.73" fill="#242424" fill-opacity="0.95"/>
<circle cx="469.4" cy="261.3" r="0.75" fill="#242424" fill-opacity="0.95"/>
<circle cx="464.7" cy="259.7" r="0.91" fill="#242424" fill-opacity="0.95"/>
<circle cx="458.1" cy="256.4" r="0.77" fill="#242424" fill-opacity="0.95"/>
<circle cx="472.7" cy="265.3" r="0.95" fill="#242424" fill-opacity="0.95"/>
<circle cx="476.8" cy="262.2" r="0.91" fill="#242424" fill-opacity="0.95"/>
<circle cx="474.6" cy="269.9" r="0.82" fill="#242424" fill-opacity="0.95"/>
<circle cx="475.8" cy="268.3" r="0.97" fill="#242424" fill-opacity="0.95"/>
<circle cx="470.2" cy="261.5" r="0.99" fill="#242424" fill-opacity="0.95"/>
<circle cx="469.8" cy="259.0" r="0.92" fill="#242424" fill-opacity="0.95"/>
<circle cx="478.2" cy="265.0" r="0.78" fill="#242424" fill-opacity="0.95"/>
<circle cx="466.5" cy="260.3" r="0.90" fill="#242424" fill-opacity="0.95"/>
<circle cx="462.0" cy="258.1" r="0.84" fill="#242424" fill-opacity="0.95"/>
<circle cx="464.6" cy="255.9" r="0.93" fill="#242424" fill-opacity="0.95"/>
<circle cx="477.6" cy="261.6" r="0.81" fill="#242424" fill-opacity="0.95"/>
<circle cx="459.0" cy="255.3" r="0.70" fill="#242424" fill-opacity="0.95"/>
<circle cx="469.9" cy="264.2" r="0.68" fill="#242424" fill-opacity="0.95"/>
<circle cx="465.7" cy="274.7" r="0.65" fill="#242424" fill-opacity="0.95"/>
<circle cx="467.7" cy="275.0" r="0.92" fill="#242424" fill-opacity="0.95"/>
<circle cx="468.3" cy="262.2" r="0.89" fill="#242424" fill-opacity="0.95"/>
<circle cx="464.7" cy="257.0" r="0.86" fill="#242424" fill-opacity="0.95"/>
<circle cx="472.7" cy="262.4" r="0.68" fill="#242424" fill-opacity="0.95"/>
<circle cx="464.3" cy="258.4" r="0.85" fill="#242424" fill-opacity="0.95"/>
<circle cx="469.9" cy="273.8" r="0.99" fill="#242424" fill-opacity="0.95"/>
<circle cx="467.4" cy="259.7" r="0.87" fill="#242424" fill-opacity="0.95"/>
<circle cx="468.6" cy="271.7" r="0.71" fill="#242424" fill-opacity="0.95"/>
<circle cx="476.9" cy="262.0" r="0.69" fill="#242424" fill-opacity="0.95"/>
<circle cx="478.7" cy="259.1" r="0.70" fill="#242424" fill-opacity="0.95"/>
<path d="M434.1,269.4 C440,268.5 446,270 451,273 C455,276 458,282 458.3,288 C458.5,294 458,297 457,300 C455,304 452.5,306 450.9,307 C446,309.5 440,310.5 435.5,310 C430,309.5 425,307 421.6,303 C418,299 416,295 416,291.8 C416.5,286 419,282 424.4,277.2 C427.5,273.5 431,270 434.1,269.4 Z" fill="#6c6c6c" stroke="#3a3a3a" stroke-width="0.7" filter="url(#mot2)"/>
<circle cx="429.0" cy="290.4" r="0.83" fill="#242424" fill-opacity="0.95"/>
<circle cx="441.9" cy="293.7" r="0.77" fill="#242424" fill-opacity="0.95"/>
<circle cx="447.9" cy="283.0" r="0.89" fill="#242424" fill-opacity="0.95"/>
<circle cx="450.0" cy="293.1" r="0.88" fill="#242424" fill-opacity="0.95"/>
<circle cx="425.5" cy="289.9" r="0.84" fill="#242424" fill-opacity="0.95"/>
<circle cx="428.1" cy="295.3" r="0.84" fill="#242424" fill-opacity="0.95"/>
<circle cx="433.6" cy="276.4" r="0.70" fill="#242424" fill-opacity="0.95"/>
<circle cx="437.9" cy="301.6" r="0.86" fill="#242424" fill-opacity="0.95"/>
<circle cx="430.3" cy="297.8" r="0.77" fill="#242424" fill-opacity="0.95"/>
<circle cx="424.4" cy="281.6" r="0.68" fill="#242424" fill-opacity="0.95"/>
<circle cx="452.3" cy="293.0" r="0.77" fill="#242424" fill-opacity="0.95"/>
<circle cx="435.1" cy="285.9" r="0.67" fill="#242424" fill-opacity="0.95"/>
<circle cx="451.8" cy="293.0" r="0.99" fill="#242424" fill-opacity="0.95"/>
<circle cx="434.7" cy="294.3" r="0.74" fill="#242424" fill-opacity="0.95"/>
<circle cx="450.5" cy="283.3" r="0.96" fill="#242424" fill-opacity="0.95"/>
<circle cx="449.0" cy="282.9" r="0.86" fill="#242424" fill-opacity="0.95"/>
<circle cx="432.8" cy="297.9" r="0.73" fill="#242424" fill-opacity="0.95"/>
<circle cx="429.7" cy="303.5" r="0.82" fill="#242424" fill-opacity="0.95"/>
<circle cx="448.1" cy="280.8" r="0.71" fill="#242424" fill-opacity="0.95"/>
<circle cx="431.6" cy="278.7" r="0.99" fill="#242424" fill-opacity="0.95"/>
<circle cx="429.0" cy="292.2" r="0.69" fill="#242424" fill-opacity="0.95"/>
<circle cx="438.3" cy="285.9" r="0.79" fill="#242424" fill-opacity="0.95"/>
<circle cx="449.4" cy="284.6" r="0.74" fill="#242424" fill-opacity="0.95"/>
<circle cx="425.3" cy="282.2" r="0.73" fill="#242424" fill-opacity="0.95"/>
<circle cx="431.0" cy="277.6" r="0.90" fill="#242424" fill-opacity="0.95"/>
<circle cx="434.8" cy="302.1" r="0.93" fill="#242424" fill-opacity="0.95"/>
<circle cx="424.1" cy="284.7" r="0.90" fill="#242424" fill-opacity="0.95"/>
<circle cx="437.2" cy="280.2" r="0.81" fill="#242424" fill-opacity="0.95"/>
<circle cx="423.0" cy="297.4" r="0.74" fill="#242424" fill-opacity="0.95"/>
<circle cx="452.2" cy="293.2" r="0.78" fill="#242424" fill-opacity="0.95"/>
<circle cx="427.4" cy="293.9" r="0.72" fill="#242424" fill-opacity="0.95"/>
<circle cx="437.5" cy="291.5" r="0.74" fill="#242424" fill-opacity="0.95"/>
<circle cx="447.3" cy="285.9" r="0.88" fill="#242424" fill-opacity="0.95"/>
<circle cx="439.6" cy="283.2" r="0.79" fill="#242424" fill-opacity="0.95"/>
<circle cx="450.3" cy="283.6" r="0.88" fill="#242424" fill-opacity="0.95"/>
<circle cx="422.1" cy="292.2" r="0.78" fill="#242424" fill-opacity="0.95"/>
<circle cx="437.0" cy="282.7" r="0.67" fill="#242424" fill-opacity="0.95"/>
<circle cx="429.8" cy="280.2" r="0.69" fill="#242424" fill-opacity="0.95"/>
<circle cx="445.2" cy="282.2" r="0.79" fill="#242424" fill-opacity="0.95"/>
<circle cx="443.2" cy="284.7" r="0.79" fill="#242424" fill-opacity="0.95"/>
<circle cx="443.0" cy="297.2" r="0.74" fill="#242424" fill-opacity="0.95"/>
<circle cx="450.2" cy="284.7" r="0.87" fill="#242424" fill-opacity="0.95"/>
<circle cx="425.5" cy="282.9" r="0.78" fill="#242424" fill-opacity="0.95"/>
<circle cx="442.3" cy="278.5" r="0.94" fill="#242424" fill-opacity="0.95"/>
<circle cx="439.7" cy="297.8" r="0.74" fill="#242424" fill-opacity="0.95"/>
<circle cx="434.5" cy="296.6" r="0.77" fill="#242424" fill-opacity="0.95"/>
<circle cx="447.5" cy="282.3" r="0.67" fill="#242424" fill-opacity="0.95"/>
<circle cx="450.5" cy="293.9" r="0.67" fill="#242424" fill-opacity="0.95"/>
<circle cx="448.1" cy="279.6" r="0.97" fill="#242424" fill-opacity="0.95"/>
<circle cx="444.4" cy="286.2" r="0.91" fill="#242424" fill-opacity="0.95"/>
<circle cx="449.5" cy="282.1" r="0.68" fill="#242424" fill-opacity="0.95"/>
<circle cx="446.1" cy="301.9" r="0.87" fill="#242424" fill-opacity="0.95"/>
<circle cx="444.5" cy="287.4" r="0.83" fill="#242424" fill-opacity="0.95"/>
<circle cx="444.7" cy="301.0" r="0.74" fill="#242424" fill-opacity="0.95"/>
<circle cx="442.2" cy="291.6" r="0.74" fill="#242424" fill-opacity="0.95"/>
<circle cx="433.6" cy="279.3" r="0.76" fill="#242424" fill-opacity="0.95"/>
<circle cx="423.2" cy="297.5" r="0.88" fill="#242424" fill-opacity="0.95"/>
<circle cx="427.0" cy="280.7" r="0.83" fill="#242424" fill-opacity="0.95"/>
<circle cx="431.4" cy="282.8" r="0.96" fill="#242424" fill-opacity="0.95"/>
<circle cx="423.4" cy="292.3" r="0.77" fill="#242424" fill-opacity="0.95"/>
<circle cx="449.0" cy="291.7" r="0.92" fill="#242424" fill-opacity="0.95"/>
<circle cx="424.4" cy="296.0" r="0.86" fill="#242424" fill-opacity="0.95"/>
<circle cx="435.5" cy="299.6" r="0.94" fill="#242424" fill-opacity="0.95"/>
<circle cx="431.7" cy="279.4" r="0.67" fill="#242424" fill-opacity="0.95"/>
<circle cx="428.7" cy="279.1" r="0.90" fill="#242424" fill-opacity="0.95"/>
<circle cx="435.0" cy="276.1" r="0.76" fill="#242424" fill-opacity="0.95"/>
<circle cx="435.8" cy="285.1" r="0.71" fill="#242424" fill-opacity="0.95"/>
<circle cx="422.1" cy="289.6" r="0.80" fill="#242424" fill-opacity="0.95"/>
<circle cx="425.2" cy="291.6" r="0.65" fill="#242424" fill-opacity="0.95"/>
<circle cx="442.8" cy="281.1" r="0.74" fill="#242424" fill-opacity="0.95"/>
<circle cx="430.1" cy="279.9" r="0.82" fill="#b0b0b0" fill-opacity="0.8"/>
<circle cx="448.2" cy="297.8" r="0.66" fill="#b0b0b0" fill-opacity="0.8"/>
<circle cx="430.9" cy="285.8" r="0.78" fill="#b0b0b0" fill-opacity="0.8"/>
<circle cx="432.6" cy="300.6" r="0.62" fill="#b0b0b0" fill-opacity="0.8"/>
<circle cx="441.4" cy="300.2" r="0.85" fill="#b0b0b0" fill-opacity="0.8"/>
<circle cx="436.8" cy="290.0" r="0.58" fill="#b0b0b0" fill-opacity="0.8"/>
<circle cx="430.2" cy="292.6" r="0.54" fill="#b0b0b0" fill-opacity="0.8"/>
<circle cx="443.4" cy="279.2" r="0.72" fill="#b0b0b0" fill-opacity="0.8"/>
<circle cx="426.5" cy="297.1" r="0.50" fill="#b0b0b0" fill-opacity="0.8"/>
<circle cx="446.8" cy="287.6" r="0.64" fill="#b0b0b0" fill-opacity="0.8"/>
<path d="M417,286 C428,282 442,279.5 456,278" stroke="#2a2a2a" stroke-width="1.1" fill="none"/>
<path d="M473.8,283.4 C479,284 482,287.5 483.5,291.8 C486,296.5 489.5,303 490.5,310 C491,316 486,322 480,326 L463,326 C462,323 465.4,319.7 463,315 C460.5,311 458.4,305 458.4,300.1 C458.5,295 461,291 464,289 C467,286.5 470.5,283.5 473.8,283.4 Z" fill="#6c6c6c" stroke="#3a3a3a" stroke-width="0.7" filter="url(#mot2)"/>
<circle cx="479.3" cy="305.6" r="0.80" fill="#242424" fill-opacity="0.95"/>
<circle cx="469.7" cy="302.7" r="0.88" fill="#242424" fill-opacity="0.95"/>
<circle cx="464.4" cy="297.2" r="0.81" fill="#242424" fill-opacity="0.95"/>
<circle cx="476.4" cy="299.2" r="0.72" fill="#242424" fill-opacity="0.95"/>
<circle cx="478.1" cy="316.8" r="0.67" fill="#242424" fill-opacity="0.95"/>
<circle cx="479.8" cy="309.1" r="0.75" fill="#242424" fill-opacity="0.95"/>
<circle cx="473.9" cy="310.6" r="0.75" fill="#242424" fill-opacity="0.95"/>
<circle cx="469.8" cy="319.6" r="0.66" fill="#242424" fill-opacity="0.95"/>
<circle cx="465.2" cy="311.8" r="0.81" fill="#242424" fill-opacity="0.95"/>
<circle cx="470.7" cy="308.1" r="0.80" fill="#242424" fill-opacity="0.95"/>
<circle cx="475.4" cy="307.5" r="0.79" fill="#242424" fill-opacity="0.95"/>
<circle cx="486.2" cy="306.8" r="0.69" fill="#242424" fill-opacity="0.95"/>
<circle cx="462.3" cy="306.2" r="0.74" fill="#242424" fill-opacity="0.95"/>
<circle cx="474.2" cy="307.1" r="0.73" fill="#242424" fill-opacity="0.95"/>
<circle cx="476.7" cy="290.3" r="0.83" fill="#242424" fill-opacity="0.95"/>
<circle cx="472.7" cy="318.8" r="0.84" fill="#242424" fill-opacity="0.95"/>
<circle cx="480.9" cy="314.8" r="0.69" fill="#242424" fill-opacity="0.95"/>
<circle cx="471.3" cy="292.5" r="0.99" fill="#242424" fill-opacity="0.95"/>
<circle cx="476.4" cy="315.4" r="0.70" fill="#242424" fill-opacity="0.95"/>
<circle cx="466.6" cy="300.1" r="0.66" fill="#242424" fill-opacity="0.95"/>
<circle cx="477.3" cy="294.1" r="0.75" fill="#242424" fill-opacity="0.95"/>
<circle cx="480.7" cy="302.2" r="0.96" fill="#242424" fill-opacity="0.95"/>
<circle cx="478.1" cy="319.1" r="0.85" fill="#242424" fill-opacity="0.95"/>
<circle cx="464.5" cy="314.3" r="0.77" fill="#242424" fill-opacity="0.95"/>
<circle cx="482.4" cy="311.9" r="0.94" fill="#242424" fill-opacity="0.95"/>
<circle cx="463.2" cy="300.2" r="0.91" fill="#242424" fill-opacity="0.95"/>
<circle cx="462.5" cy="306.9" r="0.93" fill="#242424" fill-opacity="0.95"/>
<circle cx="479.8" cy="295.7" r="0.72" fill="#242424" fill-opacity="0.95"/>
<circle cx="472.9" cy="317.9" r="0.85" fill="#242424" fill-opacity="0.95"/>
<circle cx="465.1" cy="307.1" r="0.75" fill="#242424" fill-opacity="0.95"/>
<circle cx="480.1" cy="300.5" r="0.70" fill="#242424" fill-opacity="0.95"/>
<circle cx="485.8" cy="306.5" r="0.89" fill="#242424" fill-opacity="0.95"/>
<circle cx="464.0" cy="305.1" r="0.96" fill="#242424" fill-opacity="0.95"/>
<circle cx="479.9" cy="300.9" r="0.82" fill="#242424" fill-opacity="0.95"/>
<circle cx="471.3" cy="319.2" r="0.86" fill="#242424" fill-opacity="0.95"/>
<circle cx="464.6" cy="299.7" r="0.81" fill="#242424" fill-opacity="0.95"/>
<circle cx="476.8" cy="300.7" r="0.77" fill="#242424" fill-opacity="0.95"/>
<circle cx="479.6" cy="296.4" r="0.75" fill="#242424" fill-opacity="0.95"/>
<circle cx="474.5" cy="296.0" r="0.85" fill="#242424" fill-opacity="0.95"/>
<circle cx="476.3" cy="315.3" r="0.96" fill="#242424" fill-opacity="0.95"/>
<circle cx="482.7" cy="310.1" r="0.87" fill="#242424" fill-opacity="0.95"/>
<circle cx="470.4" cy="296.7" r="0.93" fill="#242424" fill-opacity="0.95"/>
<circle cx="479.9" cy="297.6" r="0.92" fill="#242424" fill-opacity="0.95"/>
<circle cx="481.7" cy="305.3" r="0.87" fill="#242424" fill-opacity="0.95"/>
<circle cx="470.0" cy="306.9" r="0.79" fill="#242424" fill-opacity="0.95"/>
<circle cx="473.9" cy="300.0" r="0.74" fill="#242424" fill-opacity="0.95"/>
<circle cx="466.5" cy="299.3" r="0.70" fill="#242424" fill-opacity="0.95"/>
<circle cx="473.1" cy="302.9" r="0.85" fill="#242424" fill-opacity="0.95"/>
<circle cx="468.6" cy="292.4" r="0.67" fill="#242424" fill-opacity="0.95"/>
<circle cx="468.5" cy="297.7" r="0.90" fill="#242424" fill-opacity="0.95"/>
<circle cx="464.9" cy="308.1" r="1.00" fill="#242424" fill-opacity="0.95"/>
<circle cx="470.2" cy="315.4" r="0.80" fill="#242424" fill-opacity="0.95"/>
<circle cx="474.0" cy="320.2" r="0.75" fill="#242424" fill-opacity="0.95"/>
<circle cx="464.4" cy="296.2" r="0.90" fill="#242424" fill-opacity="0.95"/>
<circle cx="466.0" cy="301.2" r="0.72" fill="#242424" fill-opacity="0.95"/>
<circle cx="477.6" cy="318.8" r="0.88" fill="#242424" fill-opacity="0.95"/>
<circle cx="465.4" cy="313.9" r="0.99" fill="#242424" fill-opacity="0.95"/>
<circle cx="469.7" cy="291.2" r="0.72" fill="#242424" fill-opacity="0.95"/>
<circle cx="475.6" cy="319.3" r="0.87" fill="#242424" fill-opacity="0.95"/>
<circle cx="469.3" cy="314.5" r="0.88" fill="#242424" fill-opacity="0.95"/>
<circle cx="471.7" cy="311.8" r="0.77" fill="#242424" fill-opacity="0.95"/>
<circle cx="469.5" cy="304.8" r="0.86" fill="#242424" fill-opacity="0.95"/>
<circle cx="467.2" cy="303.6" r="0.65" fill="#242424" fill-opacity="0.95"/>
<circle cx="477.9" cy="313.5" r="0.77" fill="#242424" fill-opacity="0.95"/>
<circle cx="472.2" cy="306.5" r="0.86" fill="#242424" fill-opacity="0.95"/>
<circle cx="476.1" cy="311.0" r="0.86" fill="#242424" fill-opacity="0.95"/>
<circle cx="469.4" cy="314.2" r="0.74" fill="#242424" fill-opacity="0.95"/>
<circle cx="480.8" cy="315.0" r="0.92" fill="#242424" fill-opacity="0.95"/>
<circle cx="468.8" cy="315.4" r="0.99" fill="#242424" fill-opacity="0.95"/>
<circle cx="473.1" cy="296.6" r="0.83" fill="#242424" fill-opacity="0.95"/>
<circle cx="478.5" cy="314.3" r="0.68" fill="#c0c0c0" fill-opacity="0.8"/>
<circle cx="475.9" cy="294.2" r="0.97" fill="#c0c0c0" fill-opacity="0.8"/>
<circle cx="471.0" cy="293.1" r="0.59" fill="#c0c0c0" fill-opacity="0.8"/>
<circle cx="481.7" cy="296.2" r="0.99" fill="#c0c0c0" fill-opacity="0.8"/>
<circle cx="474.5" cy="309.6" r="0.67" fill="#c0c0c0" fill-opacity="0.8"/>
<circle cx="482.3" cy="303.6" r="0.66" fill="#c0c0c0" fill-opacity="0.8"/>
<circle cx="478.3" cy="301.7" r="0.93" fill="#c0c0c0" fill-opacity="0.8"/>
<circle cx="467.3" cy="296.6" r="0.63" fill="#c0c0c0" fill-opacity="0.8"/>
<circle cx="472.8" cy="295.9" r="0.60" fill="#c0c0c0" fill-opacity="0.8"/>
<circle cx="481.2" cy="309.9" r="0.65" fill="#c0c0c0" fill-opacity="0.8"/>
<circle cx="476.3" cy="293.3" r="0.93" fill="#c0c0c0" fill-opacity="0.8"/>
<circle cx="481.0" cy="316.0" r="0.64" fill="#c0c0c0" fill-opacity="0.8"/>
<circle cx="470.1" cy="304.5" r="0.95" fill="#c0c0c0" fill-opacity="0.8"/>
<circle cx="465.7" cy="311.2" r="0.80" fill="#c0c0c0" fill-opacity="0.8"/>
<ellipse cx="450.3" cy="320" rx="9" ry="8.5" fill="#707070" stroke="#3a3a3a" stroke-width="0.7"/>
<circle cx="430" cy="311.3" r="4" fill="#a8a8a8" opacity="0.8"/>
</g>
<rect x="399.2" y="321.2" width="18.8" height="1.4" fill="#111"/>
</g>
<rect x="356.90" y="332.00" width="3.10" height="3.10" fill="#2e4e85"/>
<text x="363.5" y="335.9" font-size="6.6" text-anchor="start" fill="#231f20" stroke="#231f20" stroke-width="0.22" textLength="31.9" lengthAdjust="spacingAndGlyphs">Patient III:5</text>
<rect x="402.10" y="332.00" width="3.10" height="3.10" fill="#53265f"/>
<text x="408.8" y="335.9" font-size="6.6" text-anchor="start" fill="#231f20" stroke="#231f20" stroke-width="0.22" textLength="21.3" lengthAdjust="spacingAndGlyphs">Control</text>
<line x1="345.5" y1="340.4" x2="345.5" y2="406.8" stroke="#000" stroke-width="1.25"/>
<line x1="342" y1="403.5" x2="345.5" y2="403.5" stroke="#000" stroke-width="1.25"/>
<text x="339.2" y="405.8" font-size="6.3" text-anchor="end" fill="#231f20" stroke="#231f20" stroke-width="0.22">0</text>
<line x1="342" y1="393.5" x2="345.5" y2="393.5" stroke="#000" stroke-width="1.25"/>
<text x="339.2" y="395.8" font-size="6.3" text-anchor="end" fill="#231f20" stroke="#231f20" stroke-width="0.22">0.2</text>
<line x1="342" y1="383.5" x2="345.5" y2="383.5" stroke="#000" stroke-width="1.25"/>
<text x="339.2" y="385.8" font-size="6.3" text-anchor="end" fill="#231f20" stroke="#231f20" stroke-width="0.22">0.4</text>
<line x1="342" y1="373.5" x2="345.5" y2="373.5" stroke="#000" stroke-width="1.25"/>
<text x="339.2" y="375.8" font-size="6.3" text-anchor="end" fill="#231f20" stroke="#231f20" stroke-width="0.22">0.6</text>
<line x1="342" y1="363.5" x2="345.5" y2="363.5" stroke="#000" stroke-width="1.25"/>
<text x="339.2" y="365.8" font-size="6.3" text-anchor="end" fill="#231f20" stroke="#231f20" stroke-width="0.22">0.8</text>
<line x1="342" y1="353.5" x2="345.5" y2="353.5" stroke="#000" stroke-width="1.25"/>
<text x="339.2" y="355.8" font-size="6.3" text-anchor="end" fill="#231f20" stroke="#231f20" stroke-width="0.22">1</text>
<line x1="342" y1="343.5" x2="345.5" y2="343.5" stroke="#000" stroke-width="1.25"/>
<text x="339.2" y="345.8" font-size="6.3" text-anchor="end" fill="#231f20" stroke="#231f20" stroke-width="0.22">1.2</text>
<line x1="344.9" y1="403.5" x2="443.5" y2="403.5" stroke="#000" stroke-width="1.25"/>
<line x1="441" y1="403.5" x2="441" y2="406.8" stroke="#000" stroke-width="1.25"/>
<rect x="366.10" y="355.20" width="27.10" height="48.30" fill="#2e4e85"/>
<rect x="393.20" y="353.80" width="26.80" height="49.70" fill="#53265f"/>
<line x1="379.6" y1="353.0" x2="379.6" y2="357.3" stroke="#0a0a0a" stroke-width="1.2"/>
<line x1="377.85" y1="353.0" x2="381.35" y2="353.0" stroke="#0a0a0a" stroke-width="1.1"/>
<line x1="377.85" y1="357.3" x2="381.35" y2="357.3" stroke="#0a0a0a" stroke-width="1.1"/>
<line x1="406.6" y1="352.3" x2="406.6" y2="354.8" stroke="#0a0a0a" stroke-width="1.2"/>
<line x1="404.85" y1="352.3" x2="408.35" y2="352.3" stroke="#0a0a0a" stroke-width="1.1"/>
<line x1="404.85" y1="354.8" x2="408.35" y2="354.8" stroke="#0a0a0a" stroke-width="1.1"/>
<text x="314.3" y="391.0" font-size="8.5" fill="#231f20" stroke="#231f20" stroke-width="0.22" transform="rotate(-90 314.3 391.0)" textLength="45.2" lengthAdjust="spacingAndGlyphs">α granules/</text>
<text x="323.3" y="390.2" font-size="8.5" fill="#231f20" stroke="#231f20" stroke-width="0.22" transform="rotate(-90 323.3 390.2)" textLength="45.2" lengthAdjust="spacingAndGlyphs">surface area</text>
</g></svg>
<div class="b" style="left:1px;top:1px;width:518px;height:1px;background:#9a9a9a"></div>
<div class="b" style="left:1px;top:1px;width:1px;height:413px;background:#808080"></div>
<div class="b" style="left:518px;top:1px;width:1px;height:413px;background:#9a9a9a"></div>
<div class="b" style="left:1px;top:413px;width:518px;height:1px;background:#7a7a7a"></div>
<div class="b" style="left:0;top:0;width:520px;height:1px;background:#222"></div>
<div class="b" style="left:0;top:0;width:1px;height:415px;background:#222"></div>
<div class="b" style="left:519px;top:0;width:1px;height:415px;background:#111"></div>
<div class="b" style="left:0;top:414px;width:520px;height:1px;background:#1e1e1e"></div>
</body></html>
